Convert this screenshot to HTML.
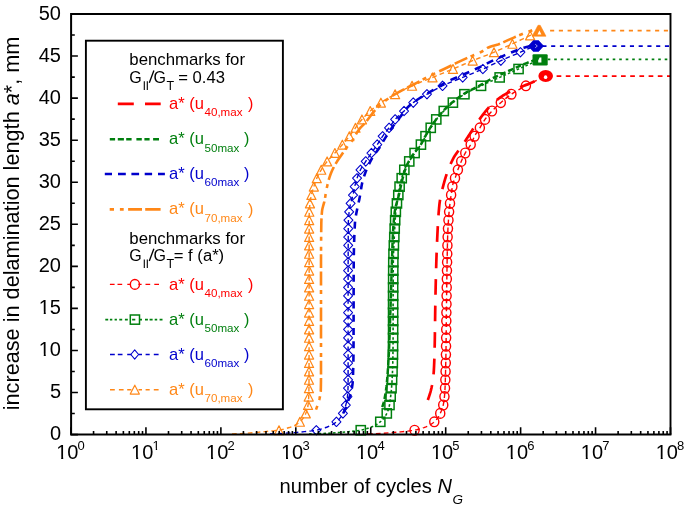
<!DOCTYPE html>
<html><head><meta charset="utf-8"><style>
html,body{margin:0;padding:0;background:#fff;}
svg{display:block;will-change:transform;}
</style></head><body>
<svg width="685" height="507" viewBox="0 0 685 507">
<rect width="685" height="507" fill="#fff"/>
<path d="M427.80,400.06 L428.03,399.42 L428.27,398.77 L428.50,398.12 L428.72,397.47 L428.94,396.82 L429.16,396.17 L429.37,395.52 L429.58,394.88 L429.78,394.23 L429.98,393.58 L430.18,392.93 L430.36,392.28 L430.55,391.63 L430.72,390.98 L430.90,390.33 L431.06,389.69 L431.22,389.04 L431.37,388.39 L431.52,387.74 L431.65,387.09 L431.78,386.44 L431.91,385.79 L432.02,385.15 L432.13,384.50 L432.24,383.85 L432.35,383.20 L432.46,382.55 L432.56,381.90 L432.66,381.25 L432.76,380.61 L432.85,379.96 L432.95,379.31 L433.03,378.66 L433.12,378.01 L433.20,377.36 L433.28,376.71 L433.36,376.07 L433.43,375.42 L433.49,374.77 L433.56,374.12 L433.62,373.47 L433.67,372.82 L433.72,372.17 L433.77,371.53 L433.81,370.88 L433.85,370.23 L433.88,369.58 L433.92,368.93 L433.95,368.28 L433.99,367.63 L434.02,366.99 L434.05,366.34 L434.08,365.69 L434.11,365.04 L434.14,364.39 L434.17,363.74 L434.20,363.09 L434.22,362.45 L434.25,361.80 L434.27,361.15 L434.30,360.50 L434.32,359.85 L434.34,359.20 L434.36,358.55 L434.38,357.90 L434.41,357.26 L434.42,356.61 L434.44,355.96 L434.46,355.31 L434.48,354.66 L434.50,354.01 L434.52,353.36 L434.53,352.72 L434.55,352.07 L434.57,351.42 L434.58,350.77 L434.60,350.12 L434.61,349.47 L434.63,348.82 L434.64,348.18 L434.66,347.53 L434.67,346.88 L434.68,346.23 L434.70,345.58 L434.71,344.93 L434.72,344.28 L434.74,343.64 L434.75,342.99 L434.76,342.34 L434.77,341.69 L434.79,341.04 L434.80,340.39 L434.81,339.74 L434.82,339.10 L434.83,338.45 L434.84,337.80 L434.85,337.15 L434.86,336.50 L434.87,335.85 L434.88,335.20 L434.89,334.56 L434.90,333.91 L434.91,333.26 L434.92,332.61 L434.93,331.96 L434.94,331.31 L434.95,330.66 L434.96,330.02 L434.97,329.37 L434.98,328.72 L434.98,328.07 L434.99,327.42 L435.00,326.77 L435.01,326.12 L435.02,325.47 L435.03,324.83 L435.04,324.18 L435.04,323.53 L435.05,322.88 L435.06,322.23 L435.07,321.58 L435.08,320.93 L435.09,320.29 L435.09,319.64 L435.10,318.99 L435.11,318.34 L435.12,317.69 L435.13,317.04 L435.14,316.39 L435.15,315.75 L435.15,315.10 L435.16,314.45 L435.17,313.80 L435.18,313.15 L435.19,312.50 L435.20,311.85 L435.21,311.21 L435.22,310.56 L435.23,309.91 L435.24,309.26 L435.25,308.61 L435.26,307.96 L435.27,307.31 L435.28,306.67 L435.29,306.02 L435.30,305.37 L435.31,304.72 L435.32,304.07 L435.33,303.42 L435.34,302.77 L435.35,302.13 L435.36,301.48 L435.38,300.83 L435.39,300.18 L435.40,299.53 L435.41,298.88 L435.43,298.23 L435.44,297.59 L435.45,296.94 L435.47,296.29 L435.48,295.64 L435.49,294.99 L435.50,294.34 L435.52,293.69 L435.53,293.04 L435.54,292.40 L435.56,291.75 L435.57,291.10 L435.59,290.45 L435.60,289.80 L435.61,289.15 L435.63,288.50 L435.64,287.86 L435.66,287.21 L435.67,286.56 L435.69,285.91 L435.70,285.26 L435.72,284.61 L435.73,283.96 L435.75,283.32 L435.76,282.67 L435.78,282.02 L435.79,281.37 L435.81,280.72 L435.82,280.07 L435.84,279.42 L435.85,278.78 L435.87,278.13 L435.89,277.48 L435.90,276.83 L435.92,276.18 L435.94,275.53 L435.95,274.88 L435.97,274.24 L435.99,273.59 L436.00,272.94 L436.02,272.29 L436.04,271.64 L436.06,270.99 L436.08,270.34 L436.09,269.70 L436.11,269.05 L436.13,268.40 L436.15,267.75 L436.17,267.10 L436.19,266.45 L436.21,265.80 L436.23,265.15 L436.24,264.51 L436.26,263.86 L436.28,263.21 L436.30,262.56 L436.32,261.91 L436.34,261.26 L436.37,260.61 L436.39,259.97 L436.41,259.32 L436.43,258.67 L436.45,258.02 L436.47,257.37 L436.49,256.72 L436.52,256.07 L436.54,255.43 L436.56,254.78 L436.58,254.13 L436.61,253.48 L436.63,252.83 L436.65,252.18 L436.68,251.53 L436.70,250.89 L436.72,250.24 L436.75,249.59 L436.77,248.94 L436.80,248.29 L436.82,247.64 L436.85,246.99 L436.88,246.35 L436.90,245.70 L436.93,245.05 L436.95,244.40 L436.98,243.75 L437.01,243.10 L437.04,242.45 L437.06,241.81 L437.09,241.16 L437.12,240.51 L437.15,239.86 L437.18,239.21 L437.21,238.56 L437.24,237.91 L437.27,237.27 L437.30,236.62 L437.33,235.97 L437.36,235.32 L437.39,234.67 L437.42,234.02 L437.45,233.37 L437.48,232.72 L437.52,232.08 L437.55,231.43 L437.58,230.78 L437.61,230.13 L437.65,229.48 L437.68,228.83 L437.71,228.18 L437.75,227.54 L437.78,226.89 L437.81,226.24 L437.85,225.59 L437.88,224.94 L437.92,224.29 L437.95,223.64 L437.99,223.00 L438.03,222.35 L438.06,221.70 L438.10,221.05 L438.14,220.40 L438.18,219.75 L438.22,219.10 L438.26,218.46 L438.30,217.81 L438.35,217.16 L438.39,216.51 L438.44,215.86 L438.48,215.21 L438.53,214.56 L438.58,213.92 L438.63,213.27 L438.68,212.62 L438.73,211.97 L438.78,211.32 L438.83,210.67 L438.89,210.02 L438.95,209.38 L439.00,208.73 L439.06,208.08 L439.12,207.43 L439.19,206.78 L439.25,206.13 L439.32,205.48 L439.38,204.84 L439.45,204.19 L439.53,203.54 L439.61,202.89 L439.70,202.24 L439.79,201.59 L439.89,200.94 L439.99,200.29 L440.09,199.65 L440.20,199.00 L440.32,198.35 L440.44,197.70 L440.56,197.05 L440.69,196.40 L440.82,195.75 L440.96,195.11 L441.10,194.46 L441.24,193.81 L441.39,193.16 L441.53,192.51 L441.69,191.86 L441.84,191.21 L442.00,190.57 L442.16,189.92 L442.32,189.27 L442.49,188.62 L442.65,187.97 L442.82,187.32 L442.99,186.67 L443.17,186.03 L443.34,185.38 L443.52,184.73 L443.69,184.08 L443.87,183.43 L444.05,182.78 L444.23,182.13 L444.41,181.49 L444.59,180.84 L444.77,180.19 L444.96,179.54 L445.15,178.89 L445.35,178.24 L445.55,177.59 L445.75,176.95 L445.96,176.30 L446.16,175.65 L446.38,175.00 L446.60,174.35 L446.82,173.70 L447.04,173.05 L447.27,172.40 L447.50,171.76 L447.74,171.11 L447.98,170.46 L448.23,169.81 L448.48,169.16 L448.73,168.51 L448.99,167.86 L449.26,167.22 L449.52,166.57 L449.80,165.92 L450.07,165.27 L450.36,164.62 L450.64,163.97 L450.93,163.32 L451.23,162.68 L451.53,162.03 L451.84,161.38 L452.15,160.73 L452.46,160.08 L452.79,159.43 L453.11,158.78 L453.44,158.14 L453.78,157.49 L454.14,156.84 L454.53,156.19 L454.94,155.54 L455.37,154.89 L455.82,154.24 L456.28,153.60 L456.76,152.95 L457.24,152.30 L457.73,151.65 L458.23,151.00 L458.73,150.35 L459.22,149.70 L459.71,149.06 L460.20,148.41 L460.67,147.76 L461.13,147.11 L461.58,146.46 L462.02,145.81 L462.45,145.16 L462.89,144.52 L463.32,143.87 L463.75,143.22 L464.18,142.57 L464.61,141.92 L465.03,141.27 L465.46,140.62 L465.88,139.97 L466.30,139.33 L466.73,138.68 L467.15,138.03 L467.57,137.38 L467.99,136.73 L468.41,136.08 L468.84,135.43 L469.26,134.79 L469.68,134.14 L470.11,133.49 L470.54,132.84 L470.96,132.19 L471.39,131.54 L471.81,130.89 L472.23,130.25 L472.65,129.60 L473.06,128.95 L473.48,128.30 L473.89,127.65 L474.31,127.00 L474.72,126.35 L475.14,125.71 L475.56,125.06 L475.98,124.41 L476.41,123.76 L476.84,123.11 L477.27,122.46 L477.71,121.81 L478.16,121.17 L478.61,120.52 L479.07,119.87 L479.54,119.22 L480.01,118.57 L480.49,117.92 L480.97,117.27 L481.44,116.63 L481.93,115.98 L482.41,115.33 L482.90,114.68 L483.40,114.03 L483.90,113.38 L484.40,112.73 L484.92,112.09 L485.44,111.44 L485.97,110.79 L486.52,110.14 L487.07,109.49 L487.64,108.84 L488.21,108.19 L488.80,107.54 L489.41,106.90 L490.03,106.25 L490.66,105.60 L491.31,104.95 L491.97,104.30 L492.65,103.65 L493.35,103.00 L494.06,102.36 L494.79,101.71 L495.55,101.06 L496.32,100.41 L497.12,99.76 L497.95,99.11 L498.80,98.46 L499.68,97.82 L500.59,97.17 L501.53,96.52 L502.50,95.87 L503.51,95.22 L504.60,94.57 L505.77,93.92 L507.01,93.28 L508.31,92.63 L509.66,91.98 L511.04,91.33 L512.45,90.68 L513.89,90.03 L515.32,89.38 L516.75,88.74 L518.21,88.09 L519.72,87.44 L521.27,86.79 L522.85,86.14 L524.46,85.49 L526.08,84.84 L527.71,84.20 L529.32,83.55 L530.93,82.90 L532.51,82.25 L534.06,81.60 L535.57,80.95 L537.06,80.30 L538.54,79.66 L539.99,79.01 L541.44,78.36 L542.87,77.71 L544.29,77.06 L545.70,76.41" fill="none" stroke="#ff0000" stroke-width="2.7" stroke-dasharray="15.7 10.8"/>
<path d="M382.30,407.12 L382.51,406.42 L382.72,405.73 L382.93,405.03 L383.13,404.33 L383.32,403.64 L383.51,402.94 L383.70,402.24 L383.87,401.54 L384.05,400.85 L384.21,400.15 L384.37,399.45 L384.52,398.76 L384.66,398.06 L384.80,397.36 L384.93,396.67 L385.06,395.97 L385.19,395.27 L385.31,394.58 L385.43,393.88 L385.54,393.18 L385.65,392.48 L385.76,391.79 L385.86,391.09 L385.96,390.39 L386.06,389.70 L386.15,389.00 L386.24,388.30 L386.32,387.61 L386.41,386.91 L386.48,386.21 L386.56,385.52 L386.64,384.82 L386.71,384.12 L386.78,383.42 L386.85,382.73 L386.92,382.03 L386.99,381.33 L387.05,380.64 L387.11,379.94 L387.17,379.24 L387.23,378.55 L387.29,377.85 L387.35,377.15 L387.40,376.46 L387.46,375.76 L387.51,375.06 L387.56,374.37 L387.61,373.67 L387.66,372.97 L387.71,372.27 L387.76,371.58 L387.81,370.88 L387.86,370.18 L387.91,369.49 L387.95,368.79 L388.00,368.09 L388.05,367.40 L388.09,366.70 L388.14,366.00 L388.18,365.31 L388.22,364.61 L388.26,363.91 L388.31,363.21 L388.35,362.52 L388.39,361.82 L388.43,361.12 L388.47,360.43 L388.51,359.73 L388.55,359.03 L388.58,358.34 L388.62,357.64 L388.66,356.94 L388.70,356.25 L388.73,355.55 L388.77,354.85 L388.80,354.15 L388.84,353.46 L388.87,352.76 L388.90,352.06 L388.94,351.37 L388.97,350.67 L389.00,349.97 L389.03,349.28 L389.06,348.58 L389.09,347.88 L389.13,347.19 L389.16,346.49 L389.18,345.79 L389.21,345.09 L389.24,344.40 L389.27,343.70 L389.30,343.00 L389.33,342.31 L389.36,341.61 L389.38,340.91 L389.41,340.22 L389.44,339.52 L389.46,338.82 L389.49,338.13 L389.52,337.43 L389.54,336.73 L389.57,336.03 L389.59,335.34 L389.62,334.64 L389.64,333.94 L389.67,333.25 L389.69,332.55 L389.72,331.85 L389.74,331.16 L389.77,330.46 L389.79,329.76 L389.81,329.07 L389.84,328.37 L389.86,327.67 L389.88,326.97 L389.91,326.28 L389.93,325.58 L389.95,324.88 L389.98,324.19 L390.00,323.49 L390.02,322.79 L390.04,322.10 L390.07,321.40 L390.09,320.70 L390.11,320.01 L390.13,319.31 L390.16,318.61 L390.18,317.92 L390.20,317.22 L390.22,316.52 L390.25,315.82 L390.27,315.13 L390.29,314.43 L390.31,313.73 L390.34,313.04 L390.36,312.34 L390.38,311.64 L390.40,310.95 L390.43,310.25 L390.45,309.55 L390.47,308.86 L390.49,308.16 L390.52,307.46 L390.54,306.76 L390.56,306.07 L390.59,305.37 L390.61,304.67 L390.63,303.98 L390.65,303.28 L390.68,302.58 L390.70,301.89 L390.72,301.19 L390.74,300.49 L390.76,299.80 L390.78,299.10 L390.81,298.40 L390.83,297.70 L390.85,297.01 L390.87,296.31 L390.89,295.61 L390.91,294.92 L390.93,294.22 L390.95,293.52 L390.98,292.83 L391.00,292.13 L391.02,291.43 L391.04,290.74 L391.06,290.04 L391.08,289.34 L391.10,288.64 L391.12,287.95 L391.14,287.25 L391.16,286.55 L391.18,285.86 L391.20,285.16 L391.23,284.46 L391.25,283.77 L391.27,283.07 L391.29,282.37 L391.31,281.68 L391.33,280.98 L391.35,280.28 L391.37,279.58 L391.39,278.89 L391.41,278.19 L391.44,277.49 L391.46,276.80 L391.48,276.10 L391.50,275.40 L391.52,274.71 L391.54,274.01 L391.56,273.31 L391.59,272.62 L391.61,271.92 L391.63,271.22 L391.65,270.52 L391.67,269.83 L391.70,269.13 L391.72,268.43 L391.74,267.74 L391.77,267.04 L391.79,266.34 L391.81,265.65 L391.83,264.95 L391.86,264.25 L391.88,263.56 L391.90,262.86 L391.92,262.16 L391.94,261.47 L391.97,260.77 L391.99,260.07 L392.01,259.37 L392.03,258.68 L392.05,257.98 L392.07,257.28 L392.09,256.59 L392.11,255.89 L392.14,255.19 L392.16,254.50 L392.18,253.80 L392.20,253.10 L392.22,252.41 L392.24,251.71 L392.26,251.01 L392.29,250.31 L392.31,249.62 L392.33,248.92 L392.35,248.22 L392.38,247.53 L392.40,246.83 L392.42,246.13 L392.45,245.44 L392.47,244.74 L392.50,244.04 L392.52,243.35 L392.55,242.65 L392.57,241.95 L392.60,241.25 L392.63,240.56 L392.66,239.86 L392.69,239.16 L392.71,238.47 L392.74,237.77 L392.78,237.07 L392.81,236.38 L392.84,235.68 L392.87,234.98 L392.90,234.29 L392.94,233.59 L392.97,232.89 L393.01,232.19 L393.05,231.50 L393.09,230.80 L393.13,230.10 L393.17,229.41 L393.21,228.71 L393.25,228.01 L393.30,227.32 L393.34,226.62 L393.39,225.92 L393.44,225.23 L393.49,224.53 L393.54,223.83 L393.60,223.13 L393.65,222.44 L393.71,221.74 L393.77,221.04 L393.83,220.35 L393.89,219.65 L393.96,218.95 L394.02,218.26 L394.09,217.56 L394.16,216.86 L394.24,216.17 L394.31,215.47 L394.39,214.77 L394.47,214.07 L394.55,213.38 L394.64,212.68 L394.72,211.98 L394.81,211.29 L394.91,210.59 L395.03,209.89 L395.15,209.20 L395.29,208.50 L395.44,207.80 L395.60,207.11 L395.76,206.41 L395.94,205.71 L396.12,205.01 L396.31,204.32 L396.50,203.62 L396.70,202.92 L396.89,202.23 L397.10,201.53 L397.30,200.83 L397.50,200.14 L397.70,199.44 L397.90,198.74 L398.10,198.05 L398.29,197.35 L398.48,196.65 L398.66,195.96 L398.84,195.26 L399.01,194.56 L399.17,193.86 L399.33,193.17 L399.49,192.47 L399.64,191.77 L399.80,191.08 L399.95,190.38 L400.10,189.68 L400.24,188.99 L400.39,188.29 L400.54,187.59 L400.69,186.90 L400.83,186.20 L400.98,185.50 L401.13,184.80 L401.28,184.11 L401.44,183.41 L401.59,182.71 L401.75,182.02 L401.92,181.32 L402.08,180.62 L402.25,179.93 L402.43,179.23 L402.61,178.53 L402.79,177.84 L402.98,177.14 L403.17,176.44 L403.36,175.74 L403.56,175.05 L403.76,174.35 L403.96,173.65 L404.17,172.96 L404.38,172.26 L404.60,171.56 L404.82,170.87 L405.05,170.17 L405.29,169.47 L405.53,168.78 L405.78,168.08 L406.04,167.38 L406.30,166.68 L406.58,165.99 L406.86,165.29 L407.16,164.59 L407.48,163.90 L407.82,163.20 L408.17,162.50 L408.55,161.81 L408.93,161.11 L409.33,160.41 L409.74,159.72 L410.16,159.02 L410.58,158.32 L411.01,157.62 L411.45,156.93 L411.91,156.23 L412.39,155.53 L412.88,154.84 L413.39,154.14 L413.90,153.44 L414.42,152.75 L414.95,152.05 L415.47,151.35 L416.00,150.66 L416.56,149.96 L417.14,149.26 L417.73,148.56 L418.32,147.87 L418.90,147.17 L419.46,146.47 L419.99,145.78 L420.47,145.08 L420.92,144.38 L421.34,143.69 L421.74,142.99 L422.13,142.29 L422.50,141.60 L422.86,140.90 L423.21,140.20 L423.56,139.51 L423.91,138.81 L424.26,138.11 L424.62,137.41 L424.99,136.72 L425.38,136.02 L425.77,135.32 L426.17,134.63 L426.56,133.93 L426.96,133.23 L427.37,132.54 L427.77,131.84 L428.18,131.14 L428.60,130.45 L429.02,129.75 L429.45,129.05 L429.89,128.35 L430.33,127.66 L430.79,126.96 L431.25,126.26 L431.72,125.57 L432.20,124.87 L432.68,124.17 L433.18,123.48 L433.68,122.78 L434.18,122.08 L434.70,121.39 L435.22,120.69 L435.74,119.99 L436.27,119.29 L436.81,118.60 L437.35,117.90 L437.89,117.20 L438.44,116.51 L439.00,115.81 L439.57,115.11 L440.14,114.42 L440.73,113.72 L441.32,113.02 L441.93,112.33 L442.55,111.63 L443.19,110.93 L443.84,110.23 L444.51,109.54 L445.20,108.84 L445.90,108.14 L446.62,107.45 L447.35,106.75 L448.10,106.05 L448.86,105.36 L449.64,104.66 L450.43,103.96 L451.24,103.27 L452.06,102.57 L452.90,101.87 L453.75,101.17 L454.61,100.48 L455.50,99.78 L456.40,99.08 L457.32,98.39 L458.26,97.69 L459.23,96.99 L460.22,96.30 L461.24,95.60 L462.28,94.90 L463.36,94.21 L464.47,93.51 L465.65,92.81 L466.90,92.11 L468.19,91.42 L469.54,90.72 L470.91,90.02 L472.30,89.33 L473.71,88.63 L475.11,87.93 L476.49,87.24 L477.86,86.54 L479.18,85.84 L480.46,85.15 L481.70,84.45 L482.90,83.75 L484.09,83.06 L485.27,82.36 L486.45,81.66 L487.64,80.96 L488.86,80.27 L490.12,79.57 L491.43,78.87 L492.79,78.18 L494.20,77.48 L495.65,76.78 L497.13,76.09 L498.65,75.39 L500.18,74.69 L501.74,74.00 L503.30,73.30 L504.87,72.60 L506.44,71.90 L508.00,71.21 L509.55,70.51 L511.09,69.81 L512.62,69.12 L514.16,68.42 L515.70,67.72 L517.25,67.03 L518.82,66.33 L520.42,65.63 L522.05,64.94 L523.72,64.24 L525.42,63.54 L527.18,62.84 L529.01,62.15 L530.92,61.45 L532.90,60.75 L534.93,60.06 L537.00,59.36" fill="none" stroke="#007f0e" stroke-width="2.5" stroke-dasharray="5.6 2.8"/>
<path d="M341.50,416.36 L341.94,415.62 L342.37,414.87 L342.79,414.13 L343.20,413.39 L343.59,412.64 L343.97,411.90 L344.34,411.16 L344.70,410.41 L345.05,409.67 L345.39,408.93 L345.71,408.18 L346.02,407.44 L346.32,406.70 L346.61,405.96 L346.88,405.21 L347.14,404.47 L347.37,403.73 L347.59,402.98 L347.80,402.24 L348.01,401.50 L348.23,400.75 L348.46,400.01 L348.70,399.27 L348.97,398.52 L349.26,397.78 L349.56,397.04 L349.86,396.29 L350.15,395.55 L350.43,394.81 L350.68,394.06 L350.89,393.32 L351.06,392.58 L351.21,391.83 L351.36,391.09 L351.51,390.35 L351.65,389.60 L351.78,388.86 L351.91,388.12 L352.04,387.37 L352.15,386.63 L352.26,385.89 L352.36,385.15 L352.45,384.40 L352.54,383.66 L352.61,382.92 L352.68,382.17 L352.73,381.43 L352.78,380.69 L352.81,379.94 L352.85,379.20 L352.88,378.46 L352.91,377.71 L352.94,376.97 L352.96,376.23 L352.99,375.48 L353.02,374.74 L353.05,374.00 L353.07,373.25 L353.10,372.51 L353.12,371.77 L353.14,371.02 L353.16,370.28 L353.19,369.54 L353.21,368.79 L353.23,368.05 L353.25,367.31 L353.26,366.57 L353.28,365.82 L353.30,365.08 L353.32,364.34 L353.33,363.59 L353.35,362.85 L353.36,362.11 L353.37,361.36 L353.39,360.62 L353.40,359.88 L353.41,359.13 L353.42,358.39 L353.43,357.65 L353.44,356.90 L353.45,356.16 L353.46,355.42 L353.47,354.67 L353.47,353.93 L353.48,353.19 L353.48,352.44 L353.49,351.70 L353.49,350.96 L353.50,350.21 L353.50,349.47 L353.51,348.73 L353.51,347.99 L353.51,347.24 L353.52,346.50 L353.52,345.76 L353.52,345.01 L353.53,344.27 L353.53,343.53 L353.53,342.78 L353.53,342.04 L353.54,341.30 L353.54,340.55 L353.54,339.81 L353.54,339.07 L353.55,338.32 L353.55,337.58 L353.55,336.84 L353.55,336.09 L353.56,335.35 L353.56,334.61 L353.56,333.86 L353.56,333.12 L353.56,332.38 L353.56,331.63 L353.57,330.89 L353.57,330.15 L353.57,329.40 L353.57,328.66 L353.57,327.92 L353.57,327.18 L353.58,326.43 L353.58,325.69 L353.58,324.95 L353.58,324.20 L353.58,323.46 L353.58,322.72 L353.58,321.97 L353.58,321.23 L353.59,320.49 L353.59,319.74 L353.59,319.00 L353.59,318.26 L353.59,317.51 L353.59,316.77 L353.59,316.03 L353.59,315.28 L353.59,314.54 L353.59,313.80 L353.60,313.05 L353.60,312.31 L353.60,311.57 L353.60,310.82 L353.60,310.08 L353.60,309.34 L353.60,308.60 L353.60,307.85 L353.60,307.11 L353.60,306.37 L353.60,305.62 L353.60,304.88 L353.61,304.14 L353.61,303.39 L353.61,302.65 L353.61,301.91 L353.61,301.16 L353.61,300.42 L353.61,299.68 L353.61,298.93 L353.61,298.19 L353.61,297.45 L353.61,296.70 L353.62,295.96 L353.62,295.22 L353.62,294.47 L353.62,293.73 L353.62,292.99 L353.62,292.24 L353.62,291.50 L353.62,290.76 L353.63,290.01 L353.63,289.27 L353.63,288.53 L353.63,287.79 L353.63,287.04 L353.63,286.30 L353.63,285.56 L353.64,284.81 L353.64,284.07 L353.64,283.33 L353.64,282.58 L353.64,281.84 L353.64,281.10 L353.65,280.35 L353.65,279.61 L353.65,278.87 L353.65,278.12 L353.66,277.38 L353.66,276.64 L353.66,275.89 L353.66,275.15 L353.67,274.41 L353.67,273.66 L353.67,272.92 L353.67,272.18 L353.68,271.43 L353.68,270.69 L353.68,269.95 L353.69,269.21 L353.69,268.46 L353.69,267.72 L353.70,266.98 L353.70,266.23 L353.70,265.49 L353.71,264.75 L353.71,264.00 L353.72,263.26 L353.72,262.52 L353.73,261.77 L353.74,261.03 L353.74,260.29 L353.75,259.54 L353.76,258.80 L353.77,258.06 L353.78,257.31 L353.79,256.57 L353.80,255.83 L353.82,255.08 L353.83,254.34 L353.84,253.60 L353.85,252.85 L353.87,252.11 L353.88,251.37 L353.90,250.62 L353.92,249.88 L353.93,249.14 L353.95,248.40 L353.97,247.65 L353.99,246.91 L354.01,246.17 L354.03,245.42 L354.05,244.68 L354.07,243.94 L354.09,243.19 L354.11,242.45 L354.14,241.71 L354.16,240.96 L354.19,240.22 L354.21,239.48 L354.24,238.73 L354.27,237.99 L354.29,237.25 L354.32,236.50 L354.35,235.76 L354.38,235.02 L354.41,234.27 L354.44,233.53 L354.47,232.79 L354.51,232.04 L354.54,231.30 L354.57,230.56 L354.61,229.82 L354.64,229.07 L354.68,228.33 L354.72,227.59 L354.75,226.84 L354.79,226.10 L354.83,225.36 L354.87,224.61 L354.91,223.87 L354.95,223.13 L355.00,222.38 L355.05,221.64 L355.11,220.90 L355.19,220.15 L355.27,219.41 L355.37,218.67 L355.48,217.92 L355.60,217.18 L355.73,216.44 L355.86,215.69 L356.00,214.95 L356.14,214.21 L356.29,213.46 L356.44,212.72 L356.59,211.98 L356.74,211.24 L356.89,210.49 L357.03,209.75 L357.18,209.01 L357.32,208.26 L357.47,207.52 L357.63,206.78 L357.79,206.03 L357.96,205.29 L358.13,204.55 L358.30,203.80 L358.48,203.06 L358.65,202.32 L358.82,201.57 L358.99,200.83 L359.16,200.09 L359.32,199.34 L359.47,198.60 L359.62,197.86 L359.76,197.11 L359.89,196.37 L360.02,195.63 L360.14,194.88 L360.26,194.14 L360.38,193.40 L360.50,192.65 L360.61,191.91 L360.72,191.17 L360.83,190.43 L360.95,189.68 L361.06,188.94 L361.18,188.20 L361.31,187.45 L361.43,186.71 L361.57,185.97 L361.70,185.22 L361.85,184.48 L362.00,183.74 L362.17,182.99 L362.34,182.25 L362.52,181.51 L362.71,180.76 L362.92,180.02 L363.13,179.28 L363.35,178.53 L363.58,177.79 L363.82,177.05 L364.07,176.30 L364.32,175.56 L364.58,174.82 L364.85,174.07 L365.12,173.33 L365.39,172.59 L365.68,171.85 L365.96,171.10 L366.25,170.36 L366.55,169.62 L366.85,168.87 L367.17,168.13 L367.49,167.39 L367.82,166.64 L368.16,165.90 L368.51,165.16 L368.87,164.41 L369.23,163.67 L369.61,162.93 L369.99,162.18 L370.38,161.44 L370.78,160.70 L371.18,159.95 L371.60,159.21 L372.02,158.47 L372.45,157.72 L372.89,156.98 L373.33,156.24 L373.79,155.49 L374.29,154.75 L374.82,154.01 L375.37,153.26 L375.94,152.52 L376.52,151.78 L377.09,151.04 L377.66,150.29 L378.21,149.55 L378.73,148.81 L379.22,148.06 L379.69,147.32 L380.14,146.58 L380.59,145.83 L381.02,145.09 L381.45,144.35 L381.88,143.60 L382.30,142.86 L382.74,142.12 L383.18,141.37 L383.63,140.63 L384.08,139.89 L384.54,139.14 L384.99,138.40 L385.45,137.66 L385.91,136.91 L386.37,136.17 L386.83,135.43 L387.30,134.68 L387.78,133.94 L388.25,133.20 L388.74,132.46 L389.23,131.71 L389.72,130.97 L390.22,130.23 L390.73,129.48 L391.24,128.74 L391.76,128.00 L392.29,127.25 L392.82,126.51 L393.35,125.77 L393.90,125.02 L394.44,124.28 L395.00,123.54 L395.56,122.79 L396.12,122.05 L396.70,121.31 L397.27,120.56 L397.85,119.82 L398.44,119.08 L399.03,118.33 L399.62,117.59 L400.21,116.85 L400.80,116.10 L401.37,115.36 L401.94,114.62 L402.50,113.87 L403.06,113.13 L403.62,112.39 L404.18,111.65 L404.75,110.90 L405.34,110.16 L405.94,109.42 L406.56,108.67 L407.21,107.93 L407.89,107.19 L408.60,106.44 L409.35,105.70 L410.16,104.96 L411.03,104.21 L411.96,103.47 L412.95,102.73 L413.98,101.98 L415.05,101.24 L416.14,100.50 L417.25,99.75 L418.37,99.01 L419.50,98.27 L420.62,97.52 L421.78,96.78 L422.97,96.04 L424.19,95.29 L425.42,94.55 L426.68,93.81 L427.95,93.07 L429.22,92.32 L430.50,91.58 L431.78,90.84 L433.05,90.09 L434.31,89.35 L435.56,88.61 L436.77,87.86 L437.96,87.12 L439.14,86.38 L440.32,85.63 L441.52,84.89 L442.75,84.15 L444.02,83.40 L445.34,82.66 L446.74,81.92 L448.21,81.17 L449.78,80.43 L451.40,79.69 L453.09,78.94 L454.81,78.20 L456.56,77.46 L458.33,76.71 L460.09,75.97 L461.85,75.23 L463.58,74.49 L465.27,73.74 L466.94,73.00 L468.61,72.26 L470.28,71.51 L471.95,70.77 L473.61,70.03 L475.24,69.28 L476.85,68.54 L478.42,67.80 L479.95,67.05 L481.44,66.31 L482.89,65.57 L484.33,64.82 L485.76,64.08 L487.19,63.34 L488.65,62.59 L490.13,61.85 L491.66,61.11 L493.23,60.36 L494.84,59.62 L496.48,58.88 L498.14,58.13 L499.82,57.39 L501.51,56.65 L503.22,55.90 L504.93,55.16 L506.64,54.42 L508.37,53.68 L510.13,52.93 L511.92,52.19 L513.76,51.45 L515.66,50.70 L517.55,49.96 L519.49,49.22 L521.56,48.47 L523.87,47.73 L526.54,46.99 L529.63,46.24 L533.00,45.50" fill="none" stroke="#0000cc" stroke-width="2.6" stroke-dasharray="7.1 6.2" stroke-dashoffset="-3.6"/>
<path d="M316.00,409.64 L316.27,408.88 L316.54,408.12 L316.81,407.36 L317.07,406.60 L317.33,405.84 L317.58,405.07 L317.82,404.31 L318.07,403.55 L318.31,402.79 L318.56,402.03 L318.81,401.27 L319.04,400.51 L319.25,399.75 L319.44,398.99 L319.60,398.23 L319.76,397.47 L319.92,396.71 L320.08,395.94 L320.22,395.18 L320.36,394.42 L320.48,393.66 L320.59,392.90 L320.68,392.14 L320.75,391.38 L320.79,390.62 L320.81,389.86 L320.83,389.10 L320.85,388.34 L320.87,387.57 L320.88,386.81 L320.90,386.05 L320.91,385.29 L320.92,384.53 L320.94,383.77 L320.95,383.01 L320.96,382.25 L320.97,381.49 L320.97,380.73 L320.98,379.97 L320.99,379.20 L320.99,378.44 L320.99,377.68 L321.00,376.92 L321.00,376.16 L321.00,375.40 L321.00,374.64 L321.00,373.88 L321.00,373.12 L321.00,372.36 L321.00,371.60 L321.00,370.84 L321.00,370.07 L321.00,369.31 L321.00,368.55 L321.00,367.79 L321.00,367.03 L321.00,366.27 L321.00,365.51 L321.00,364.75 L321.00,363.99 L321.00,363.23 L321.00,362.47 L321.00,361.70 L321.00,360.94 L321.00,360.18 L321.00,359.42 L321.00,358.66 L321.00,357.90 L321.00,357.14 L321.00,356.38 L321.00,355.62 L321.00,354.86 L321.00,354.10 L321.00,353.33 L321.00,352.57 L321.00,351.81 L321.00,351.05 L321.00,350.29 L321.00,349.53 L321.00,348.77 L321.00,348.01 L321.00,347.25 L321.00,346.49 L321.00,345.73 L321.00,344.97 L321.00,344.20 L321.00,343.44 L321.00,342.68 L321.00,341.92 L321.00,341.16 L321.00,340.40 L321.00,339.64 L321.00,338.88 L321.00,338.12 L321.00,337.36 L321.00,336.60 L321.00,335.83 L321.00,335.07 L321.00,334.31 L321.00,333.55 L321.00,332.79 L321.00,332.03 L321.00,331.27 L321.00,330.51 L321.00,329.75 L321.00,328.99 L321.00,328.23 L321.00,327.46 L321.00,326.70 L321.00,325.94 L321.00,325.18 L321.00,324.42 L321.00,323.66 L321.00,322.90 L321.00,322.14 L321.00,321.38 L321.00,320.62 L321.00,319.86 L321.00,319.10 L321.00,318.33 L321.00,317.57 L321.00,316.81 L321.00,316.05 L321.00,315.29 L321.00,314.53 L321.00,313.77 L321.00,313.01 L321.00,312.25 L321.00,311.49 L321.00,310.73 L321.00,309.96 L321.00,309.20 L321.00,308.44 L321.00,307.68 L321.00,306.92 L321.00,306.16 L321.00,305.40 L321.00,304.64 L321.00,303.88 L321.00,303.12 L321.00,302.36 L321.00,301.59 L321.00,300.83 L321.00,300.07 L321.00,299.31 L321.00,298.55 L321.00,297.79 L321.00,297.03 L321.00,296.27 L321.00,295.51 L321.00,294.75 L321.00,293.99 L321.00,293.23 L321.00,292.46 L321.00,291.70 L321.00,290.94 L321.00,290.18 L321.00,289.42 L321.00,288.66 L321.00,287.90 L321.00,287.14 L321.00,286.38 L321.00,285.62 L321.00,284.86 L321.00,284.09 L321.00,283.33 L321.00,282.57 L321.00,281.81 L321.00,281.05 L321.00,280.29 L321.00,279.53 L321.00,278.77 L321.00,278.01 L321.00,277.25 L321.00,276.49 L321.00,275.72 L321.00,274.96 L321.00,274.20 L321.00,273.44 L321.00,272.68 L321.00,271.92 L321.00,271.16 L321.00,270.40 L321.00,269.64 L321.00,268.88 L321.00,268.12 L321.00,267.36 L321.00,266.59 L321.00,265.83 L321.00,265.07 L321.00,264.31 L321.00,263.55 L321.00,262.79 L321.00,262.03 L321.00,261.27 L321.00,260.51 L321.01,259.75 L321.01,258.99 L321.01,258.22 L321.01,257.46 L321.01,256.70 L321.02,255.94 L321.02,255.18 L321.02,254.42 L321.02,253.66 L321.03,252.90 L321.03,252.14 L321.04,251.38 L321.04,250.62 L321.04,249.85 L321.05,249.09 L321.05,248.33 L321.06,247.57 L321.06,246.81 L321.07,246.05 L321.07,245.29 L321.08,244.53 L321.08,243.77 L321.09,243.01 L321.09,242.25 L321.10,241.49 L321.11,240.72 L321.11,239.96 L321.12,239.20 L321.13,238.44 L321.13,237.68 L321.14,236.92 L321.15,236.16 L321.16,235.40 L321.16,234.64 L321.17,233.88 L321.18,233.12 L321.19,232.35 L321.20,231.59 L321.21,230.83 L321.22,230.07 L321.23,229.31 L321.24,228.55 L321.25,227.79 L321.26,227.03 L321.27,226.27 L321.28,225.51 L321.29,224.75 L321.30,223.98 L321.31,223.22 L321.33,222.46 L321.35,221.70 L321.38,220.94 L321.41,220.18 L321.44,219.42 L321.48,218.66 L321.52,217.90 L321.56,217.14 L321.61,216.38 L321.66,215.62 L321.71,214.85 L321.77,214.09 L321.83,213.33 L321.90,212.57 L321.96,211.81 L322.04,211.05 L322.14,210.29 L322.27,209.53 L322.42,208.77 L322.60,208.01 L322.80,207.25 L323.00,206.48 L323.22,205.72 L323.44,204.96 L323.66,204.20 L323.87,203.44 L324.08,202.68 L324.28,201.92 L324.46,201.16 L324.62,200.40 L324.76,199.64 L324.90,198.88 L325.03,198.11 L325.15,197.35 L325.27,196.59 L325.39,195.83 L325.51,195.07 L325.63,194.31 L325.75,193.55 L325.87,192.79 L326.00,192.03 L326.14,191.27 L326.28,190.51 L326.43,189.75 L326.58,188.98 L326.73,188.22 L326.89,187.46 L327.05,186.70 L327.22,185.94 L327.39,185.18 L327.56,184.42 L327.74,183.66 L327.93,182.90 L328.12,182.14 L328.31,181.38 L328.52,180.61 L328.73,179.85 L328.95,179.09 L329.18,178.33 L329.42,177.57 L329.67,176.81 L329.93,176.05 L330.20,175.29 L330.48,174.53 L330.77,173.77 L331.06,173.01 L331.37,172.24 L331.68,171.48 L332.02,170.72 L332.36,169.96 L332.73,169.20 L333.11,168.44 L333.50,167.68 L333.90,166.92 L334.31,166.16 L334.73,165.40 L335.16,164.64 L335.60,163.88 L336.04,163.11 L336.50,162.35 L336.98,161.59 L337.48,160.83 L337.98,160.07 L338.50,159.31 L339.02,158.55 L339.55,157.79 L340.07,157.03 L340.59,156.27 L341.11,155.51 L341.62,154.74 L342.13,153.98 L342.64,153.22 L343.16,152.46 L343.67,151.70 L344.19,150.94 L344.72,150.18 L345.25,149.42 L345.79,148.66 L346.33,147.90 L346.89,147.14 L347.46,146.37 L348.06,145.61 L348.68,144.85 L349.32,144.09 L349.96,143.33 L350.60,142.57 L351.22,141.81 L351.82,141.05 L352.39,140.29 L352.93,139.53 L353.43,138.77 L353.90,138.01 L354.36,137.24 L354.79,136.48 L355.22,135.72 L355.64,134.96 L356.07,134.20 L356.50,133.44 L356.93,132.68 L357.39,131.92 L357.86,131.16 L358.36,130.40 L358.89,129.64 L359.46,128.87 L360.09,128.11 L360.78,127.35 L361.51,126.59 L362.27,125.83 L363.03,125.07 L363.79,124.31 L364.51,123.55 L365.19,122.79 L365.83,122.03 L366.45,121.27 L367.05,120.50 L367.63,119.74 L368.20,118.98 L368.77,118.22 L369.33,117.46 L369.89,116.70 L370.45,115.94 L371.01,115.18 L371.59,114.42 L372.18,113.66 L372.78,112.90 L373.41,112.14 L374.06,111.37 L374.73,110.61 L375.41,109.85 L376.12,109.09 L376.85,108.33 L377.60,107.57 L378.37,106.81 L379.17,106.05 L379.99,105.29 L380.83,104.53 L381.69,103.77 L382.57,103.00 L383.47,102.24 L384.40,101.48 L385.35,100.72 L386.33,99.96 L387.34,99.20 L388.38,98.44 L389.46,97.68 L390.59,96.92 L391.77,96.16 L392.99,95.40 L394.26,94.63 L395.56,93.87 L396.89,93.11 L398.25,92.35 L399.63,91.59 L401.02,90.83 L402.43,90.07 L403.85,89.31 L405.33,88.55 L406.86,87.79 L408.43,87.03 L410.02,86.27 L411.61,85.50 L413.17,84.74 L414.69,83.98 L416.15,83.22 L417.58,82.46 L418.97,81.70 L420.35,80.94 L421.71,80.18 L423.09,79.42 L424.47,78.66 L425.89,77.90 L427.34,77.13 L428.83,76.37 L430.36,75.61 L431.91,74.85 L433.48,74.09 L435.07,73.33 L436.67,72.57 L438.28,71.81 L439.89,71.05 L441.49,70.29 L443.08,69.53 L444.66,68.76 L446.22,68.00 L447.77,67.24 L449.31,66.48 L450.85,65.72 L452.39,64.96 L453.94,64.20 L455.51,63.44 L457.09,62.68 L458.68,61.92 L460.29,61.16 L461.90,60.40 L463.53,59.63 L465.18,58.87 L466.84,58.11 L468.54,57.35 L470.31,56.59 L472.14,55.83 L474.00,55.07 L475.84,54.31 L477.63,53.55 L479.35,52.79 L480.95,52.03 L482.39,51.26 L483.63,50.50 L484.77,49.74 L485.90,48.98 L487.11,48.22 L488.49,47.46 L490.15,46.70 L492.50,45.94 L495.33,45.18 L497.98,44.42 L500.06,43.66 L501.92,42.89 L503.64,42.13 L505.27,41.37 L506.88,40.61 L508.53,39.85 L510.25,39.09 L512.03,38.33 L513.80,37.57 L515.59,36.81 L517.40,36.05 L519.23,35.29 L521.09,34.53 L522.99,33.76 L524.93,33.00 L526.90,32.24 L528.90,31.48 L530.94,30.72 L533.00,29.96" fill="none" stroke="#ff8717" stroke-width="2.6" stroke-dasharray="4 6 4 4.5 13.8 3.5 13.8 3.6"/>
<path d="M368.00,434.00 L382.95,433.28 L393.17,432.57 L400.66,431.85 L407.39,431.13 L413.62,430.42 L416.72,429.70 L419.44,428.98 L421.86,428.27 L424.01,427.55 L425.92,426.83 L427.61,426.12 L429.09,425.40 L430.40,424.68 L431.55,423.97 L432.57,423.25 L433.47,422.53 L434.29,421.82 L435.03,421.10 L435.72,420.38 L436.35,419.67 L436.94,418.95 L437.47,418.23 L437.97,417.52 L438.43,416.80 L438.86,416.08 L439.26,415.37 L439.63,414.65 L439.99,413.93 L440.34,413.22 L440.67,412.50 L440.99,411.79 L441.30,411.07 L441.59,410.35 L441.87,409.64 L442.13,408.92 L442.38,408.20 L442.61,407.49 L442.81,406.77 L443.00,406.05 L443.17,405.34 L443.32,404.62 L443.46,403.90 L443.59,403.19 L443.71,402.47 L443.83,401.75 L443.94,401.04 L444.04,400.32 L444.13,399.60 L444.22,398.89 L444.30,398.17 L444.38,397.45 L444.45,396.74 L444.51,396.02 L444.57,395.30 L444.63,394.59 L444.69,393.87 L444.74,393.15 L444.79,392.44 L444.84,391.72 L444.88,391.00 L444.93,390.29 L444.97,389.57 L445.00,388.85 L445.04,388.14 L445.07,387.42 L445.10,386.70 L445.13,385.99 L445.16,385.27 L445.19,384.55 L445.21,383.84 L445.24,383.12 L445.26,382.40 L445.28,381.69 L445.30,380.97 L445.32,380.25 L445.35,379.54 L445.37,378.82 L445.39,378.10 L445.41,377.39 L445.43,376.67 L445.45,375.95 L445.47,375.24 L445.49,374.52 L445.51,373.80 L445.52,373.09 L445.54,372.37 L445.56,371.65 L445.58,370.94 L445.60,370.22 L445.62,369.51 L445.63,368.79 L445.65,368.07 L445.67,367.36 L445.68,366.64 L445.70,365.92 L445.72,365.21 L445.73,364.49 L445.75,363.77 L445.76,363.06 L445.78,362.34 L445.79,361.62 L445.81,360.91 L445.82,360.19 L445.84,359.47 L445.85,358.76 L445.87,358.04 L445.88,357.32 L445.89,356.61 L445.90,355.89 L445.92,355.17 L445.93,354.46 L445.94,353.74 L445.95,353.02 L445.96,352.31 L445.98,351.59 L445.99,350.87 L446.00,350.16 L446.01,349.44 L446.02,348.72 L446.03,348.01 L446.04,347.29 L446.05,346.57 L446.06,345.86 L446.07,345.14 L446.07,344.42 L446.08,343.71 L446.09,342.99 L446.10,342.27 L446.11,341.56 L446.12,340.84 L446.12,340.12 L446.13,339.41 L446.14,338.69 L446.15,337.97 L446.15,337.26 L446.16,336.54 L446.17,335.82 L446.17,335.11 L446.18,334.39 L446.19,333.67 L446.19,332.96 L446.20,332.24 L446.21,331.52 L446.21,330.81 L446.22,330.09 L446.23,329.38 L446.23,328.66 L446.24,327.94 L446.25,327.23 L446.25,326.51 L446.26,325.79 L446.27,325.08 L446.27,324.36 L446.28,323.64 L446.29,322.93 L446.29,322.21 L446.30,321.49 L446.31,320.78 L446.31,320.06 L446.32,319.34 L446.33,318.63 L446.34,317.91 L446.34,317.19 L446.35,316.48 L446.36,315.76 L446.37,315.04 L446.38,314.33 L446.38,313.61 L446.39,312.89 L446.40,312.18 L446.41,311.46 L446.42,310.74 L446.43,310.03 L446.43,309.31 L446.44,308.59 L446.45,307.88 L446.46,307.16 L446.47,306.44 L446.48,305.73 L446.49,305.01 L446.50,304.29 L446.51,303.58 L446.51,302.86 L446.52,302.14 L446.53,301.43 L446.54,300.71 L446.55,299.99 L446.56,299.28 L446.57,298.56 L446.58,297.84 L446.59,297.13 L446.60,296.41 L446.61,295.69 L446.61,294.98 L446.62,294.26 L446.63,293.54 L446.64,292.83 L446.65,292.11 L446.66,291.39 L446.67,290.68 L446.68,289.96 L446.69,289.24 L446.70,288.53 L446.71,287.81 L446.72,287.10 L446.73,286.38 L446.74,285.66 L446.75,284.95 L446.76,284.23 L446.77,283.51 L446.78,282.80 L446.79,282.08 L446.80,281.36 L446.81,280.65 L446.82,279.93 L446.83,279.21 L446.84,278.50 L446.86,277.78 L446.87,277.06 L446.88,276.35 L446.89,275.63 L446.90,274.91 L446.91,274.20 L446.92,273.48 L446.93,272.76 L446.94,272.05 L446.96,271.33 L446.97,270.61 L446.98,269.90 L446.99,269.18 L447.00,268.46 L447.01,267.75 L447.03,267.03 L447.04,266.31 L447.05,265.60 L447.06,264.88 L447.07,264.16 L447.09,263.45 L447.10,262.73 L447.11,262.01 L447.12,261.30 L447.14,260.58 L447.15,259.86 L447.16,259.15 L447.17,258.43 L447.18,257.71 L447.20,257.00 L447.21,256.28 L447.22,255.56 L447.23,254.85 L447.25,254.13 L447.26,253.41 L447.27,252.70 L447.29,251.98 L447.30,251.26 L447.31,250.55 L447.33,249.83 L447.34,249.11 L447.36,248.40 L447.37,247.68 L447.39,246.96 L447.40,246.25 L447.42,245.53 L447.43,244.82 L447.45,244.10 L447.47,243.38 L447.48,242.67 L447.50,241.95 L447.52,241.23 L447.54,240.52 L447.56,239.80 L447.58,239.08 L447.60,238.37 L447.62,237.65 L447.64,236.93 L447.66,236.22 L447.68,235.50 L447.70,234.78 L447.73,234.07 L447.75,233.35 L447.78,232.63 L447.81,231.92 L447.84,231.20 L447.87,230.48 L447.91,229.77 L447.94,229.05 L447.98,228.33 L448.01,227.62 L448.05,226.90 L448.09,226.18 L448.13,225.47 L448.17,224.75 L448.22,224.03 L448.26,223.32 L448.31,222.60 L448.35,221.88 L448.40,221.17 L448.45,220.45 L448.50,219.73 L448.55,219.02 L448.60,218.30 L448.65,217.58 L448.71,216.87 L448.76,216.15 L448.82,215.43 L448.87,214.72 L448.93,214.00 L448.98,213.28 L449.04,212.57 L449.10,211.85 L449.17,211.13 L449.23,210.42 L449.30,209.70 L449.37,208.98 L449.44,208.27 L449.52,207.55 L449.60,206.83 L449.68,206.12 L449.76,205.40 L449.84,204.69 L449.93,203.97 L450.02,203.25 L450.11,202.54 L450.20,201.82 L450.29,201.10 L450.38,200.39 L450.48,199.67 L450.57,198.95 L450.67,198.24 L450.77,197.52 L450.87,196.80 L450.97,196.09 L451.07,195.37 L451.17,194.65 L451.27,193.94 L451.38,193.22 L451.48,192.50 L451.58,191.79 L451.68,191.07 L451.79,190.35 L451.90,189.64 L452.01,188.92 L452.12,188.20 L452.24,187.49 L452.37,186.77 L452.50,186.05 L452.64,185.34 L452.79,184.62 L452.95,183.90 L453.11,183.19 L453.30,182.47 L453.53,181.75 L453.79,181.04 L454.09,180.32 L454.39,179.60 L454.71,178.89 L455.02,178.17 L455.31,177.45 L455.58,176.74 L455.84,176.02 L456.08,175.30 L456.32,174.59 L456.56,173.87 L456.79,173.15 L457.03,172.44 L457.26,171.72 L457.50,171.00 L457.74,170.29 L457.98,169.57 L458.24,168.85 L458.50,168.14 L458.77,167.42 L459.05,166.70 L459.33,165.99 L459.62,165.27 L459.91,164.55 L460.21,163.84 L460.51,163.12 L460.81,162.41 L461.12,161.69 L461.44,160.97 L461.76,160.26 L462.08,159.54 L462.40,158.82 L462.73,158.11 L463.07,157.39 L463.41,156.67 L463.75,155.96 L464.11,155.24 L464.47,154.52 L464.84,153.81 L465.23,153.09 L465.63,152.37 L466.06,151.66 L466.51,150.94 L466.99,150.22 L467.49,149.51 L467.99,148.79 L468.49,148.07 L468.99,147.36 L469.47,146.64 L469.93,145.92 L470.37,145.21 L470.77,144.49 L471.14,143.77 L471.49,143.06 L471.83,142.34 L472.15,141.62 L472.46,140.91 L472.76,140.19 L473.07,139.47 L473.38,138.76 L473.70,138.04 L474.03,137.32 L474.38,136.61 L474.75,135.89 L475.15,135.17 L475.57,134.46 L476.01,133.74 L476.46,133.02 L476.93,132.31 L477.40,131.59 L477.88,130.87 L478.36,130.16 L478.83,129.44 L479.29,128.72 L479.74,128.01 L480.18,127.29 L480.61,126.57 L481.04,125.86 L481.46,125.14 L481.87,124.42 L482.30,123.71 L482.72,122.99 L483.15,122.27 L483.60,121.56 L484.05,120.84 L484.52,120.13 L485.01,119.41 L485.52,118.69 L486.05,117.98 L486.60,117.26 L487.17,116.54 L487.75,115.83 L488.35,115.11 L488.96,114.39 L489.59,113.68 L490.23,112.96 L490.88,112.24 L491.54,111.53 L492.20,110.81 L492.88,110.09 L493.58,109.38 L494.29,108.66 L495.01,107.94 L495.75,107.23 L496.51,106.51 L497.27,105.79 L498.05,105.08 L498.85,104.36 L499.65,103.64 L500.46,102.93 L501.29,102.21 L502.12,101.49 L502.96,100.78 L503.81,100.06 L504.66,99.34 L505.54,98.63 L506.43,97.91 L507.34,97.19 L508.27,96.48 L509.23,95.76 L510.22,95.04 L511.23,94.33 L512.28,93.61 L513.37,92.89 L514.51,92.18 L515.68,91.46 L516.89,90.74 L518.13,90.03 L519.41,89.31 L520.70,88.59 L522.02,87.88 L523.36,87.16 L524.71,86.44 L526.07,85.73 L527.45,85.01 L528.84,84.29 L530.26,83.58 L531.71,82.86 L533.17,82.14 L534.66,81.43 L536.17,80.71 L537.71,80.00 L539.27,79.28 L540.84,78.56 L542.44,77.85 L544.06,77.13 L545.70,76.41" fill="none" stroke="#ff0000" stroke-width="1.4" stroke-dasharray="4.7 3.2"/>
<path d="M309.00,434.00 L328.30,433.25 L339.79,432.50 L348.41,431.75 L355.51,431.00 L360.64,430.25 L363.63,429.50 L366.29,428.74 L368.66,427.99 L370.77,427.24 L372.63,426.49 L374.27,425.74 L375.72,424.99 L377.00,424.24 L378.14,423.49 L379.17,422.74 L380.10,421.99 L380.96,421.24 L381.77,420.49 L382.51,419.74 L383.20,418.98 L383.83,418.23 L384.41,417.48 L384.95,416.73 L385.44,415.98 L385.88,415.23 L386.29,414.48 L386.65,413.73 L386.99,412.98 L387.32,412.23 L387.62,411.48 L387.90,410.73 L388.17,409.97 L388.42,409.22 L388.65,408.47 L388.86,407.72 L389.06,406.97 L389.23,406.22 L389.39,405.47 L389.54,404.72 L389.67,403.97 L389.79,403.22 L389.91,402.47 L390.02,401.72 L390.12,400.97 L390.21,400.21 L390.31,399.46 L390.40,398.71 L390.49,397.96 L390.58,397.21 L390.67,396.46 L390.76,395.71 L390.85,394.96 L390.94,394.21 L391.02,393.46 L391.11,392.71 L391.19,391.96 L391.27,391.21 L391.34,390.45 L391.41,389.70 L391.47,388.95 L391.54,388.20 L391.59,387.45 L391.65,386.70 L391.70,385.95 L391.76,385.20 L391.81,384.45 L391.85,383.70 L391.90,382.95 L391.95,382.20 L391.99,381.45 L392.03,380.69 L392.07,379.94 L392.11,379.19 L392.15,378.44 L392.19,377.69 L392.23,376.94 L392.27,376.19 L392.31,375.44 L392.34,374.69 L392.38,373.94 L392.42,373.19 L392.46,372.44 L392.49,371.69 L392.53,370.93 L392.56,370.18 L392.59,369.43 L392.62,368.68 L392.65,367.93 L392.68,367.18 L392.70,366.43 L392.73,365.68 L392.75,364.93 L392.77,364.18 L392.78,363.43 L392.80,362.68 L392.81,361.92 L392.82,361.17 L392.84,360.42 L392.85,359.67 L392.86,358.92 L392.87,358.17 L392.89,357.42 L392.90,356.67 L392.91,355.92 L392.92,355.17 L392.93,354.42 L392.94,353.67 L392.95,352.92 L392.96,352.16 L392.97,351.41 L392.98,350.66 L392.99,349.91 L393.00,349.16 L393.01,348.41 L393.02,347.66 L393.02,346.91 L393.03,346.16 L393.04,345.41 L393.05,344.66 L393.05,343.91 L393.06,343.16 L393.06,342.40 L393.07,341.65 L393.07,340.90 L393.08,340.15 L393.08,339.40 L393.09,338.65 L393.09,337.90 L393.09,337.15 L393.10,336.40 L393.10,335.65 L393.10,334.90 L393.10,334.15 L393.10,333.40 L393.10,332.64 L393.10,331.89 L393.10,331.14 L393.10,330.39 L393.10,329.64 L393.10,328.89 L393.10,328.14 L393.10,327.39 L393.10,326.64 L393.10,325.89 L393.10,325.14 L393.10,324.39 L393.10,323.64 L393.10,322.88 L393.10,322.13 L393.10,321.38 L393.10,320.63 L393.10,319.88 L393.10,319.13 L393.10,318.38 L393.10,317.63 L393.10,316.88 L393.10,316.13 L393.10,315.38 L393.10,314.63 L393.10,313.87 L393.10,313.12 L393.10,312.37 L393.10,311.62 L393.10,310.87 L393.10,310.12 L393.10,309.37 L393.10,308.62 L393.10,307.87 L393.10,307.12 L393.10,306.37 L393.10,305.62 L393.10,304.87 L393.10,304.11 L393.10,303.36 L393.10,302.61 L393.10,301.86 L393.10,301.11 L393.11,300.36 L393.11,299.61 L393.11,298.86 L393.11,298.11 L393.11,297.36 L393.11,296.61 L393.12,295.86 L393.12,295.11 L393.12,294.35 L393.12,293.60 L393.12,292.85 L393.13,292.10 L393.13,291.35 L393.13,290.60 L393.13,289.85 L393.14,289.10 L393.14,288.35 L393.14,287.60 L393.15,286.85 L393.15,286.10 L393.15,285.35 L393.16,284.59 L393.16,283.84 L393.16,283.09 L393.17,282.34 L393.17,281.59 L393.17,280.84 L393.18,280.09 L393.18,279.34 L393.19,278.59 L393.19,277.84 L393.20,277.09 L393.20,276.34 L393.20,275.59 L393.21,274.83 L393.21,274.08 L393.22,273.33 L393.22,272.58 L393.23,271.83 L393.23,271.08 L393.24,270.33 L393.25,269.58 L393.25,268.83 L393.26,268.08 L393.26,267.33 L393.27,266.58 L393.27,265.82 L393.28,265.07 L393.29,264.32 L393.29,263.57 L393.30,262.82 L393.31,262.07 L393.31,261.32 L393.33,260.57 L393.34,259.82 L393.35,259.07 L393.37,258.32 L393.39,257.57 L393.41,256.82 L393.43,256.06 L393.46,255.31 L393.48,254.56 L393.51,253.81 L393.53,253.06 L393.56,252.31 L393.59,251.56 L393.62,250.81 L393.66,250.06 L393.69,249.31 L393.72,248.56 L393.76,247.81 L393.79,247.06 L393.83,246.30 L393.87,245.55 L393.90,244.80 L393.94,244.05 L393.98,243.30 L394.02,242.55 L394.05,241.80 L394.09,241.05 L394.13,240.30 L394.17,239.55 L394.21,238.80 L394.25,238.05 L394.28,237.30 L394.32,236.54 L394.36,235.79 L394.39,235.04 L394.43,234.29 L394.47,233.54 L394.50,232.79 L394.54,232.04 L394.57,231.29 L394.61,230.54 L394.65,229.79 L394.68,229.04 L394.72,228.29 L394.76,227.54 L394.80,226.78 L394.84,226.03 L394.88,225.28 L394.92,224.53 L394.96,223.78 L395.00,223.03 L395.05,222.28 L395.09,221.53 L395.14,220.78 L395.19,220.03 L395.23,219.28 L395.28,218.53 L395.34,217.77 L395.39,217.02 L395.45,216.27 L395.50,215.52 L395.56,214.77 L395.62,214.02 L395.68,213.27 L395.75,212.52 L395.82,211.77 L395.90,211.02 L395.99,210.27 L396.08,209.52 L396.17,208.77 L396.27,208.01 L396.37,207.26 L396.48,206.51 L396.59,205.76 L396.71,205.01 L396.82,204.26 L396.94,203.51 L397.06,202.76 L397.18,202.01 L397.30,201.26 L397.43,200.51 L397.55,199.76 L397.67,199.01 L397.79,198.25 L397.91,197.50 L398.03,196.75 L398.15,196.00 L398.27,195.25 L398.38,194.50 L398.49,193.75 L398.59,193.00 L398.70,192.25 L398.81,191.50 L398.92,190.75 L399.03,190.00 L399.15,189.25 L399.27,188.49 L399.39,187.74 L399.53,186.99 L399.67,186.24 L399.83,185.49 L400.00,184.74 L400.17,183.99 L400.36,183.24 L400.55,182.49 L400.75,181.74 L400.95,180.99 L401.16,180.24 L401.37,179.49 L401.57,178.73 L401.78,177.98 L401.99,177.23 L402.19,176.48 L402.40,175.73 L402.61,174.98 L402.83,174.23 L403.05,173.48 L403.29,172.73 L403.54,171.98 L403.80,171.23 L404.07,170.48 L404.37,169.72 L404.68,168.97 L405.05,168.22 L405.45,167.47 L405.88,166.72 L406.34,165.97 L406.82,165.22 L407.30,164.47 L407.80,163.72 L408.29,162.97 L408.77,162.22 L409.23,161.47 L409.69,160.72 L410.15,159.96 L410.62,159.21 L411.08,158.46 L411.55,157.71 L412.03,156.96 L412.50,156.21 L412.99,155.46 L413.48,154.71 L413.98,153.96 L414.48,153.21 L415.00,152.46 L415.54,151.71 L416.10,150.96 L416.68,150.20 L417.27,149.45 L417.87,148.70 L418.47,147.95 L419.05,147.20 L419.63,146.45 L420.18,145.70 L420.71,144.95 L421.20,144.20 L421.66,143.45 L422.10,142.70 L422.52,141.95 L422.92,141.20 L423.32,140.44 L423.70,139.69 L424.09,138.94 L424.47,138.19 L424.86,137.44 L425.26,136.69 L425.68,135.94 L426.11,135.19 L426.56,134.44 L427.01,133.69 L427.47,132.94 L427.94,132.19 L428.41,131.44 L428.89,130.68 L429.37,129.93 L429.85,129.18 L430.33,128.43 L430.82,127.68 L431.30,126.93 L431.78,126.18 L432.25,125.43 L432.73,124.68 L433.21,123.93 L433.69,123.18 L434.18,122.43 L434.68,121.67 L435.19,120.92 L435.73,120.17 L436.28,119.42 L436.85,118.67 L437.45,117.92 L438.08,117.17 L438.72,116.42 L439.38,115.67 L440.06,114.92 L440.75,114.17 L441.46,113.42 L442.18,112.67 L442.91,111.91 L443.64,111.16 L444.39,110.41 L445.14,109.66 L445.90,108.91 L446.68,108.16 L447.47,107.41 L448.27,106.66 L449.09,105.91 L449.93,105.16 L450.78,104.41 L451.65,103.66 L452.54,102.91 L453.46,102.15 L454.38,101.40 L455.33,100.65 L456.28,99.90 L457.26,99.15 L458.27,98.40 L459.30,97.65 L460.36,96.90 L461.45,96.15 L462.57,95.40 L463.74,94.65 L464.94,93.90 L466.21,93.15 L467.54,92.39 L468.94,91.64 L470.40,90.89 L471.90,90.14 L473.44,89.39 L475.01,88.64 L476.60,87.89 L478.20,87.14 L479.80,86.39 L481.40,85.64 L482.99,84.89 L484.60,84.14 L486.24,83.39 L487.90,82.63 L489.58,81.88 L491.26,81.13 L492.96,80.38 L494.66,79.63 L496.36,78.88 L498.06,78.13 L499.75,77.38 L501.43,76.63 L503.12,75.88 L504.80,75.13 L506.49,74.38 L508.18,73.62 L509.87,72.87 L511.56,72.12 L513.25,71.37 L514.95,70.62 L516.64,69.87 L518.33,69.12 L520.02,68.37 L521.71,67.62 L523.40,66.87 L525.09,66.12 L526.78,65.37 L528.47,64.62 L530.16,63.86 L531.85,63.11 L533.54,62.36 L535.23,61.61 L536.92,60.86 L538.61,60.11 L540.30,59.36" fill="none" stroke="#007f0e" stroke-width="1.6" stroke-dasharray="2.6 2.2"/>
<path d="M270.00,434.00 L284.98,433.22 L296.53,432.44 L304.38,431.66 L311.54,430.89 L316.78,430.11 L319.90,429.33 L322.67,428.55 L325.12,427.77 L327.29,426.99 L329.19,426.21 L330.87,425.44 L332.34,424.66 L333.63,423.88 L334.77,423.10 L335.79,422.32 L336.72,421.54 L337.58,420.76 L338.37,419.99 L339.09,419.21 L339.76,418.43 L340.37,417.65 L340.93,416.87 L341.44,416.09 L341.91,415.31 L342.34,414.54 L342.74,413.76 L343.11,412.98 L343.46,412.20 L343.78,411.42 L344.08,410.64 L344.37,409.86 L344.64,409.09 L344.89,408.31 L345.12,407.53 L345.35,406.75 L345.56,405.97 L345.76,405.19 L345.96,404.41 L346.16,403.64 L346.35,402.86 L346.53,402.08 L346.70,401.30 L346.86,400.52 L347.01,399.74 L347.14,398.96 L347.26,398.19 L347.36,397.41 L347.44,396.63 L347.52,395.85 L347.60,395.07 L347.67,394.29 L347.74,393.52 L347.80,392.74 L347.85,391.96 L347.90,391.18 L347.94,390.40 L347.97,389.62 L348.00,388.84 L348.01,388.07 L348.03,387.29 L348.04,386.51 L348.05,385.73 L348.06,384.95 L348.07,384.17 L348.08,383.39 L348.09,382.62 L348.10,381.84 L348.10,381.06 L348.10,380.28 L348.10,379.50 L348.10,378.72 L348.10,377.94 L348.10,377.17 L348.10,376.39 L348.10,375.61 L348.10,374.83 L348.10,374.05 L348.10,373.27 L348.10,372.49 L348.10,371.72 L348.10,370.94 L348.10,370.16 L348.10,369.38 L348.10,368.60 L348.10,367.82 L348.10,367.04 L348.10,366.27 L348.10,365.49 L348.10,364.71 L348.10,363.93 L348.10,363.15 L348.10,362.37 L348.10,361.59 L348.10,360.82 L348.10,360.04 L348.10,359.26 L348.10,358.48 L348.10,357.70 L348.10,356.92 L348.10,356.14 L348.10,355.37 L348.10,354.59 L348.10,353.81 L348.10,353.03 L348.10,352.25 L348.10,351.47 L348.10,350.69 L348.10,349.92 L348.10,349.14 L348.10,348.36 L348.10,347.58 L348.10,346.80 L348.10,346.02 L348.10,345.24 L348.10,344.47 L348.10,343.69 L348.10,342.91 L348.10,342.13 L348.10,341.35 L348.10,340.57 L348.10,339.79 L348.10,339.02 L348.10,338.24 L348.10,337.46 L348.10,336.68 L348.10,335.90 L348.10,335.12 L348.10,334.34 L348.10,333.57 L348.10,332.79 L348.10,332.01 L348.10,331.23 L348.10,330.45 L348.10,329.67 L348.10,328.89 L348.10,328.12 L348.10,327.34 L348.10,326.56 L348.10,325.78 L348.10,325.00 L348.10,324.22 L348.10,323.44 L348.10,322.67 L348.10,321.89 L348.10,321.11 L348.10,320.33 L348.10,319.55 L348.10,318.77 L348.10,317.99 L348.10,317.22 L348.10,316.44 L348.10,315.66 L348.10,314.88 L348.10,314.10 L348.10,313.32 L348.10,312.55 L348.10,311.77 L348.10,310.99 L348.10,310.21 L348.10,309.43 L348.10,308.65 L348.10,307.87 L348.10,307.10 L348.10,306.32 L348.10,305.54 L348.10,304.76 L348.10,303.98 L348.10,303.20 L348.10,302.42 L348.10,301.65 L348.10,300.87 L348.10,300.09 L348.10,299.31 L348.10,298.53 L348.10,297.75 L348.10,296.97 L348.10,296.20 L348.10,295.42 L348.10,294.64 L348.10,293.86 L348.10,293.08 L348.10,292.30 L348.10,291.52 L348.10,290.75 L348.11,289.97 L348.11,289.19 L348.11,288.41 L348.11,287.63 L348.11,286.85 L348.11,286.07 L348.11,285.30 L348.11,284.52 L348.11,283.74 L348.11,282.96 L348.11,282.18 L348.11,281.40 L348.11,280.62 L348.11,279.85 L348.12,279.07 L348.12,278.29 L348.12,277.51 L348.12,276.73 L348.12,275.95 L348.12,275.17 L348.12,274.40 L348.12,273.62 L348.12,272.84 L348.13,272.06 L348.13,271.28 L348.13,270.50 L348.13,269.72 L348.13,268.95 L348.13,268.17 L348.13,267.39 L348.14,266.61 L348.14,265.83 L348.14,265.05 L348.14,264.27 L348.14,263.50 L348.14,262.72 L348.15,261.94 L348.15,261.16 L348.15,260.38 L348.15,259.60 L348.15,258.82 L348.16,258.05 L348.16,257.27 L348.16,256.49 L348.16,255.71 L348.16,254.93 L348.17,254.15 L348.17,253.37 L348.17,252.60 L348.17,251.82 L348.18,251.04 L348.18,250.26 L348.18,249.48 L348.18,248.70 L348.19,247.92 L348.19,247.15 L348.19,246.37 L348.20,245.59 L348.20,244.81 L348.20,244.03 L348.20,243.25 L348.21,242.47 L348.21,241.70 L348.21,240.92 L348.22,240.14 L348.22,239.36 L348.22,238.58 L348.23,237.80 L348.23,237.03 L348.23,236.25 L348.24,235.47 L348.24,234.69 L348.25,233.91 L348.25,233.13 L348.25,232.35 L348.26,231.58 L348.26,230.80 L348.27,230.02 L348.27,229.24 L348.27,228.46 L348.28,227.68 L348.28,226.90 L348.29,226.13 L348.29,225.35 L348.30,224.57 L348.30,223.79 L348.31,223.01 L348.33,222.23 L348.36,221.45 L348.40,220.68 L348.44,219.90 L348.49,219.12 L348.54,218.34 L348.61,217.56 L348.67,216.78 L348.74,216.00 L348.81,215.23 L348.89,214.45 L348.96,213.67 L349.04,212.89 L349.13,212.11 L349.21,211.33 L349.30,210.55 L349.40,209.78 L349.52,209.00 L349.65,208.22 L349.78,207.44 L349.93,206.66 L350.08,205.88 L350.25,205.10 L350.41,204.33 L350.58,203.55 L350.75,202.77 L350.94,201.99 L351.16,201.21 L351.39,200.43 L351.63,199.65 L351.87,198.88 L352.12,198.10 L352.36,197.32 L352.59,196.54 L352.81,195.76 L353.01,194.98 L353.19,194.20 L353.36,193.43 L353.51,192.65 L353.66,191.87 L353.81,191.09 L353.96,190.31 L354.10,189.53 L354.25,188.75 L354.41,187.98 L354.57,187.20 L354.75,186.42 L354.94,185.64 L355.13,184.86 L355.33,184.08 L355.53,183.30 L355.75,182.53 L355.97,181.75 L356.19,180.97 L356.43,180.19 L356.67,179.41 L356.92,178.63 L357.18,177.85 L357.45,177.08 L357.73,176.30 L358.02,175.52 L358.32,174.74 L358.63,173.96 L358.95,173.18 L359.29,172.40 L359.64,171.63 L360.00,170.85 L360.37,170.07 L360.76,169.29 L361.17,168.51 L361.61,167.73 L362.07,166.95 L362.56,166.18 L363.06,165.40 L363.57,164.62 L364.10,163.84 L364.62,163.06 L365.15,162.28 L365.67,161.51 L366.18,160.73 L366.69,159.95 L367.22,159.17 L367.74,158.39 L368.27,157.61 L368.80,156.83 L369.34,156.06 L369.88,155.28 L370.41,154.50 L370.95,153.72 L371.49,152.94 L372.02,152.16 L372.56,151.38 L373.09,150.61 L373.63,149.83 L374.17,149.05 L374.71,148.27 L375.25,147.49 L375.79,146.71 L376.33,145.93 L376.86,145.16 L377.38,144.38 L377.90,143.60 L378.40,142.82 L378.90,142.04 L379.39,141.26 L379.88,140.48 L380.37,139.71 L380.86,138.93 L381.36,138.15 L381.86,137.37 L382.38,136.59 L382.90,135.81 L383.45,135.03 L384.01,134.26 L384.60,133.48 L385.20,132.70 L385.82,131.92 L386.44,131.14 L387.07,130.36 L387.69,129.58 L388.31,128.81 L388.92,128.03 L389.51,127.25 L390.08,126.47 L390.63,125.69 L391.17,124.91 L391.70,124.13 L392.23,123.36 L392.76,122.58 L393.31,121.80 L393.88,121.02 L394.48,120.24 L395.11,119.46 L395.78,118.68 L396.50,117.91 L397.27,117.13 L398.08,116.35 L398.91,115.57 L399.77,114.79 L400.65,114.01 L401.54,113.23 L402.43,112.46 L403.31,111.68 L404.17,110.90 L405.02,110.12 L405.84,109.34 L406.65,108.56 L407.46,107.78 L408.26,107.01 L409.08,106.23 L409.92,105.45 L410.79,104.67 L411.69,103.89 L412.63,103.11 L413.62,102.33 L414.68,101.56 L415.81,100.78 L417.01,100.00 L418.25,99.22 L419.55,98.44 L420.88,97.66 L422.24,96.88 L423.61,96.11 L424.99,95.33 L426.38,94.55 L427.75,93.77 L429.12,92.99 L430.49,92.21 L431.87,91.43 L433.26,90.66 L434.67,89.88 L436.11,89.10 L437.57,88.32 L439.07,87.54 L440.60,86.76 L442.18,85.98 L443.81,85.21 L445.52,84.43 L447.30,83.65 L449.14,82.87 L451.03,82.09 L452.95,81.31 L454.91,80.54 L456.87,79.76 L458.82,78.98 L460.77,78.20 L462.68,77.42 L464.56,76.64 L466.45,75.86 L468.34,75.09 L470.24,74.31 L472.13,73.53 L474.02,72.75 L475.90,71.97 L477.77,71.19 L479.61,70.41 L481.43,69.64 L483.22,68.86 L484.97,68.08 L486.68,67.30 L488.36,66.52 L490.01,65.74 L491.65,64.96 L493.28,64.19 L494.91,63.41 L496.54,62.63 L498.20,61.85 L499.88,61.07 L501.59,60.29 L503.35,59.51 L505.13,58.74 L506.93,57.96 L508.76,57.18 L510.59,56.40 L512.44,55.62 L514.28,54.84 L516.12,54.06 L517.95,53.29 L519.77,52.51 L521.56,51.73 L523.34,50.95 L525.11,50.17 L526.88,49.39 L528.64,48.61 L530.39,47.84 L532.13,47.06 L533.87,46.28 L535.60,45.50" fill="none" stroke="#0000cc" stroke-width="1.4" stroke-dasharray="4.7 3.2"/>
<path d="M232.00,434.00 L247.53,433.19 L257.32,432.38 L265.07,431.58 L274.26,430.77 L280.21,429.96 L283.66,429.15 L286.68,428.34 L289.30,427.54 L291.56,426.73 L293.50,425.92 L295.16,425.11 L296.59,424.30 L297.81,423.50 L298.88,422.69 L299.82,421.88 L300.68,421.07 L301.47,420.26 L302.18,419.46 L302.84,418.65 L303.43,417.84 L303.96,417.03 L304.44,416.22 L304.88,415.42 L305.27,414.61 L305.62,413.80 L305.94,412.99 L306.25,412.18 L306.54,411.38 L306.81,410.57 L307.06,409.76 L307.29,408.95 L307.50,408.14 L307.68,407.34 L307.83,406.53 L307.96,405.72 L308.07,404.91 L308.16,404.10 L308.25,403.30 L308.33,402.49 L308.41,401.68 L308.48,400.87 L308.54,400.06 L308.59,399.26 L308.64,398.45 L308.68,397.64 L308.71,396.83 L308.74,396.02 L308.76,395.22 L308.79,394.41 L308.82,393.60 L308.84,392.79 L308.86,391.98 L308.89,391.18 L308.91,390.37 L308.92,389.56 L308.94,388.75 L308.96,387.94 L308.97,387.14 L308.98,386.33 L308.99,385.52 L308.99,384.71 L309.00,383.90 L309.00,383.09 L309.00,382.29 L309.01,381.48 L309.01,380.67 L309.01,379.86 L309.01,379.05 L309.02,378.25 L309.02,377.44 L309.02,376.63 L309.02,375.82 L309.02,375.01 L309.03,374.21 L309.03,373.40 L309.03,372.59 L309.03,371.78 L309.03,370.97 L309.03,370.17 L309.04,369.36 L309.04,368.55 L309.04,367.74 L309.04,366.93 L309.04,366.13 L309.04,365.32 L309.05,364.51 L309.05,363.70 L309.05,362.89 L309.05,362.09 L309.05,361.28 L309.05,360.47 L309.05,359.66 L309.05,358.85 L309.05,358.05 L309.06,357.24 L309.06,356.43 L309.06,355.62 L309.06,354.81 L309.06,354.01 L309.06,353.20 L309.06,352.39 L309.06,351.58 L309.06,350.77 L309.06,349.97 L309.07,349.16 L309.07,348.35 L309.07,347.54 L309.07,346.73 L309.07,345.93 L309.07,345.12 L309.07,344.31 L309.07,343.50 L309.07,342.69 L309.07,341.89 L309.07,341.08 L309.07,340.27 L309.07,339.46 L309.07,338.65 L309.07,337.85 L309.08,337.04 L309.08,336.23 L309.08,335.42 L309.08,334.61 L309.08,333.81 L309.08,333.00 L309.08,332.19 L309.08,331.38 L309.08,330.57 L309.08,329.77 L309.08,328.96 L309.08,328.15 L309.08,327.34 L309.08,326.53 L309.08,325.73 L309.08,324.92 L309.08,324.11 L309.09,323.30 L309.09,322.49 L309.09,321.69 L309.09,320.88 L309.09,320.07 L309.09,319.26 L309.09,318.45 L309.09,317.65 L309.09,316.84 L309.09,316.03 L309.09,315.22 L309.09,314.41 L309.09,313.61 L309.09,312.80 L309.10,311.99 L309.10,311.18 L309.10,310.37 L309.10,309.57 L309.10,308.76 L309.10,307.95 L309.10,307.14 L309.10,306.33 L309.10,305.53 L309.10,304.72 L309.10,303.91 L309.11,303.10 L309.11,302.29 L309.11,301.49 L309.11,300.68 L309.11,299.87 L309.11,299.06 L309.11,298.25 L309.11,297.45 L309.11,296.64 L309.11,295.83 L309.11,295.02 L309.11,294.21 L309.11,293.41 L309.11,292.60 L309.11,291.79 L309.12,290.98 L309.12,290.17 L309.12,289.37 L309.12,288.56 L309.12,287.75 L309.12,286.94 L309.12,286.13 L309.12,285.33 L309.12,284.52 L309.12,283.71 L309.12,282.90 L309.12,282.09 L309.12,281.28 L309.12,280.48 L309.12,279.67 L309.12,278.86 L309.12,278.05 L309.12,277.24 L309.12,276.44 L309.12,275.63 L309.12,274.82 L309.12,274.01 L309.12,273.20 L309.13,272.40 L309.13,271.59 L309.13,270.78 L309.13,269.97 L309.13,269.16 L309.13,268.36 L309.13,267.55 L309.13,266.74 L309.13,265.93 L309.13,265.12 L309.13,264.32 L309.13,263.51 L309.13,262.70 L309.13,261.89 L309.13,261.08 L309.13,260.28 L309.13,259.47 L309.13,258.66 L309.13,257.85 L309.13,257.04 L309.14,256.24 L309.14,255.43 L309.14,254.62 L309.14,253.81 L309.14,253.00 L309.14,252.20 L309.14,251.39 L309.14,250.58 L309.14,249.77 L309.14,248.96 L309.14,248.16 L309.14,247.35 L309.14,246.54 L309.14,245.73 L309.15,244.92 L309.15,244.12 L309.15,243.31 L309.15,242.50 L309.15,241.69 L309.15,240.88 L309.15,240.08 L309.15,239.27 L309.15,238.46 L309.15,237.65 L309.16,236.84 L309.16,236.04 L309.16,235.23 L309.16,234.42 L309.16,233.61 L309.16,232.80 L309.16,232.00 L309.16,231.19 L309.17,230.38 L309.17,229.57 L309.17,228.76 L309.17,227.96 L309.17,227.15 L309.17,226.34 L309.18,225.53 L309.18,224.72 L309.18,223.92 L309.18,223.11 L309.18,222.30 L309.18,221.49 L309.19,220.68 L309.19,219.88 L309.19,219.07 L309.19,218.26 L309.19,217.45 L309.20,216.64 L309.20,215.84 L309.20,215.03 L309.22,214.22 L309.24,213.41 L309.27,212.60 L309.30,211.80 L309.34,210.99 L309.39,210.18 L309.45,209.37 L309.51,208.56 L309.57,207.76 L309.64,206.95 L309.71,206.14 L309.78,205.33 L309.85,204.52 L309.93,203.72 L310.01,202.91 L310.10,202.10 L310.20,201.29 L310.33,200.48 L310.46,199.68 L310.61,198.87 L310.76,198.06 L310.93,197.25 L311.10,196.44 L311.27,195.64 L311.45,194.83 L311.63,194.02 L311.84,193.21 L312.05,192.40 L312.28,191.60 L312.52,190.79 L312.77,189.98 L313.02,189.17 L313.28,188.36 L313.54,187.56 L313.79,186.75 L314.05,185.94 L314.30,185.13 L314.56,184.32 L314.82,183.52 L315.09,182.71 L315.37,181.90 L315.65,181.09 L315.95,180.28 L316.26,179.47 L316.59,178.67 L316.93,177.86 L317.30,177.05 L317.69,176.24 L318.09,175.43 L318.51,174.63 L318.95,173.82 L319.39,173.01 L319.85,172.20 L320.32,171.39 L320.79,170.59 L321.28,169.78 L321.78,168.97 L322.29,168.16 L322.82,167.35 L323.36,166.55 L323.92,165.74 L324.49,164.93 L325.07,164.12 L325.67,163.31 L326.28,162.51 L326.91,161.70 L327.57,160.89 L328.27,160.08 L328.99,159.27 L329.74,158.47 L330.51,157.66 L331.28,156.85 L332.06,156.04 L332.83,155.23 L333.59,154.43 L334.34,153.62 L335.07,152.81 L335.80,152.00 L336.53,151.19 L337.26,150.39 L337.99,149.58 L338.72,148.77 L339.44,147.96 L340.15,147.15 L340.86,146.35 L341.57,145.54 L342.27,144.73 L342.96,143.92 L343.66,143.11 L344.35,142.31 L345.04,141.50 L345.72,140.69 L346.40,139.88 L347.07,139.07 L347.74,138.27 L348.39,137.46 L349.03,136.65 L349.67,135.84 L350.29,135.03 L350.89,134.23 L351.48,133.42 L352.06,132.61 L352.63,131.80 L353.21,130.99 L353.78,130.19 L354.36,129.38 L354.95,128.57 L355.54,127.76 L356.14,126.95 L356.74,126.15 L357.33,125.34 L357.93,124.53 L358.53,123.72 L359.14,122.91 L359.76,122.11 L360.39,121.30 L361.04,120.49 L361.71,119.68 L362.41,118.87 L363.13,118.07 L363.87,117.26 L364.62,116.45 L365.40,115.64 L366.20,114.83 L367.02,114.03 L367.86,113.22 L368.71,112.41 L369.59,111.60 L370.48,110.79 L371.40,109.99 L372.33,109.18 L373.29,108.37 L374.28,107.56 L375.29,106.75 L376.32,105.95 L377.39,105.14 L378.48,104.33 L379.60,103.52 L380.75,102.71 L381.94,101.91 L383.17,101.10 L384.45,100.29 L385.77,99.48 L387.13,98.67 L388.52,97.87 L389.95,97.06 L391.40,96.25 L392.87,95.44 L394.35,94.63 L395.85,93.83 L397.37,93.02 L398.91,92.21 L400.48,91.40 L402.07,90.59 L403.70,89.79 L405.35,88.98 L407.03,88.17 L408.73,87.36 L410.47,86.55 L412.24,85.75 L414.04,84.94 L415.90,84.13 L417.81,83.32 L419.77,82.51 L421.76,81.71 L423.78,80.90 L425.80,80.09 L427.83,79.28 L429.86,78.47 L431.87,77.66 L433.85,76.86 L435.83,76.05 L437.81,75.24 L439.79,74.43 L441.78,73.62 L443.76,72.82 L445.74,72.01 L447.71,71.20 L449.68,70.39 L451.63,69.58 L453.58,68.78 L455.50,67.97 L457.40,67.16 L459.28,66.35 L461.15,65.54 L463.02,64.74 L464.88,63.93 L466.76,63.12 L468.64,62.31 L470.55,61.50 L472.49,60.70 L474.47,59.89 L476.50,59.08 L478.57,58.27 L480.68,57.46 L482.80,56.66 L484.92,55.85 L487.02,55.04 L489.09,54.23 L491.11,53.42 L493.06,52.62 L494.95,51.81 L496.80,51.00 L498.62,50.19 L500.40,49.38 L502.17,48.58 L503.92,47.77 L505.66,46.96 L507.39,46.15 L509.12,45.34 L510.86,44.54 L512.61,43.73 L514.35,42.92 L516.10,42.11 L517.84,41.30 L519.57,40.50 L521.30,39.69 L523.01,38.88 L524.71,38.07 L526.39,37.26 L528.05,36.46 L529.69,35.65 L531.30,34.84 L532.90,34.03 L534.48,33.22 L536.03,32.42 L537.57,31.61 L539.10,30.80" fill="none" stroke="#ff8717" stroke-width="1.4" stroke-dasharray="4.7 3.2"/>
<line x1="550.1" y1="30.70" x2="670.5" y2="30.70" stroke="#ff8717" stroke-width="1.7" stroke-dasharray="4.1 4.65"/>
<line x1="542.4" y1="46.10" x2="670.5" y2="46.10" stroke="#0000cc" stroke-width="1.7" stroke-dasharray="4.1 4.65"/>
<line x1="547.7" y1="59.40" x2="670.5" y2="59.40" stroke="#007f0e" stroke-width="1.7" stroke-dasharray="2.6 3.9"/>
<line x1="556.6" y1="76.10" x2="670.5" y2="76.10" stroke="#ff0000" stroke-width="1.7" stroke-dasharray="4.7 4.5"/>
<ellipse cx="414.57" cy="430.22" rx="4.55" ry="4.85" fill="none" stroke="#ff0000" stroke-width="1.4"/>
<ellipse cx="434.28" cy="421.82" rx="4.55" ry="4.85" fill="none" stroke="#ff0000" stroke-width="1.4"/>
<ellipse cx="440.24" cy="413.42" rx="4.55" ry="4.85" fill="none" stroke="#ff0000" stroke-width="1.4"/>
<ellipse cx="443.24" cy="405.02" rx="4.55" ry="4.85" fill="none" stroke="#ff0000" stroke-width="1.4"/>
<ellipse cx="444.46" cy="396.62" rx="4.55" ry="4.85" fill="none" stroke="#ff0000" stroke-width="1.4"/>
<ellipse cx="445.03" cy="388.22" rx="4.55" ry="4.85" fill="none" stroke="#ff0000" stroke-width="1.4"/>
<ellipse cx="445.34" cy="379.82" rx="4.55" ry="4.85" fill="none" stroke="#ff0000" stroke-width="1.4"/>
<ellipse cx="445.57" cy="371.42" rx="4.55" ry="4.85" fill="none" stroke="#ff0000" stroke-width="1.4"/>
<ellipse cx="445.77" cy="363.02" rx="4.55" ry="4.85" fill="none" stroke="#ff0000" stroke-width="1.4"/>
<ellipse cx="445.93" cy="354.62" rx="4.55" ry="4.85" fill="none" stroke="#ff0000" stroke-width="1.4"/>
<ellipse cx="446.05" cy="346.22" rx="4.55" ry="4.85" fill="none" stroke="#ff0000" stroke-width="1.4"/>
<ellipse cx="446.15" cy="337.82" rx="4.55" ry="4.85" fill="none" stroke="#ff0000" stroke-width="1.4"/>
<ellipse cx="446.23" cy="329.42" rx="4.55" ry="4.85" fill="none" stroke="#ff0000" stroke-width="1.4"/>
<ellipse cx="446.31" cy="321.02" rx="4.55" ry="4.85" fill="none" stroke="#ff0000" stroke-width="1.4"/>
<ellipse cx="446.39" cy="312.62" rx="4.55" ry="4.85" fill="none" stroke="#ff0000" stroke-width="1.4"/>
<ellipse cx="446.50" cy="304.22" rx="4.55" ry="4.85" fill="none" stroke="#ff0000" stroke-width="1.4"/>
<ellipse cx="446.60" cy="295.82" rx="4.55" ry="4.85" fill="none" stroke="#ff0000" stroke-width="1.4"/>
<ellipse cx="446.72" cy="287.42" rx="4.55" ry="4.85" fill="none" stroke="#ff0000" stroke-width="1.4"/>
<ellipse cx="446.84" cy="279.02" rx="4.55" ry="4.85" fill="none" stroke="#ff0000" stroke-width="1.4"/>
<ellipse cx="446.97" cy="270.62" rx="4.55" ry="4.85" fill="none" stroke="#ff0000" stroke-width="1.4"/>
<ellipse cx="447.11" cy="262.22" rx="4.55" ry="4.85" fill="none" stroke="#ff0000" stroke-width="1.4"/>
<ellipse cx="447.25" cy="253.82" rx="4.55" ry="4.85" fill="none" stroke="#ff0000" stroke-width="1.4"/>
<ellipse cx="447.42" cy="245.42" rx="4.55" ry="4.85" fill="none" stroke="#ff0000" stroke-width="1.4"/>
<ellipse cx="447.63" cy="237.02" rx="4.55" ry="4.85" fill="none" stroke="#ff0000" stroke-width="1.4"/>
<ellipse cx="447.96" cy="228.62" rx="4.55" ry="4.85" fill="none" stroke="#ff0000" stroke-width="1.4"/>
<ellipse cx="448.47" cy="220.22" rx="4.55" ry="4.85" fill="none" stroke="#ff0000" stroke-width="1.4"/>
<ellipse cx="449.11" cy="211.82" rx="4.55" ry="4.85" fill="none" stroke="#ff0000" stroke-width="1.4"/>
<ellipse cx="450.00" cy="203.42" rx="4.55" ry="4.85" fill="none" stroke="#ff0000" stroke-width="1.4"/>
<ellipse cx="451.12" cy="195.02" rx="4.55" ry="4.85" fill="none" stroke="#ff0000" stroke-width="1.4"/>
<ellipse cx="452.39" cy="186.62" rx="4.55" ry="4.85" fill="none" stroke="#ff0000" stroke-width="1.4"/>
<ellipse cx="455.00" cy="178.22" rx="4.55" ry="4.85" fill="none" stroke="#ff0000" stroke-width="1.4"/>
<ellipse cx="457.90" cy="169.82" rx="4.55" ry="4.85" fill="none" stroke="#ff0000" stroke-width="1.4"/>
<ellipse cx="461.24" cy="161.42" rx="4.55" ry="4.85" fill="none" stroke="#ff0000" stroke-width="1.4"/>
<ellipse cx="465.27" cy="153.02" rx="4.55" ry="4.85" fill="none" stroke="#ff0000" stroke-width="1.4"/>
<ellipse cx="470.70" cy="144.62" rx="4.55" ry="4.85" fill="none" stroke="#ff0000" stroke-width="1.4"/>
<ellipse cx="474.58" cy="136.22" rx="4.55" ry="4.85" fill="none" stroke="#ff0000" stroke-width="1.4"/>
<ellipse cx="479.86" cy="127.82" rx="4.55" ry="4.85" fill="none" stroke="#ff0000" stroke-width="1.4"/>
<ellipse cx="485.00" cy="119.42" rx="4.55" ry="4.85" fill="none" stroke="#ff0000" stroke-width="1.4"/>
<ellipse cx="492.01" cy="111.02" rx="4.55" ry="4.85" fill="none" stroke="#ff0000" stroke-width="1.4"/>
<ellipse cx="500.82" cy="102.62" rx="4.55" ry="4.85" fill="none" stroke="#ff0000" stroke-width="1.4"/>
<ellipse cx="511.39" cy="94.22" rx="4.55" ry="4.85" fill="none" stroke="#ff0000" stroke-width="1.4"/>
<ellipse cx="525.90" cy="85.82" rx="4.55" ry="4.85" fill="none" stroke="#ff0000" stroke-width="1.4"/>
<rect x="356.15" y="425.62" width="9.20" height="9.20" fill="none" stroke="#007f0e" stroke-width="1.5"/>
<rect x="375.70" y="417.22" width="9.20" height="9.20" fill="none" stroke="#007f0e" stroke-width="1.5"/>
<rect x="382.19" y="408.82" width="9.20" height="9.20" fill="none" stroke="#007f0e" stroke-width="1.5"/>
<rect x="384.88" y="400.42" width="9.20" height="9.20" fill="none" stroke="#007f0e" stroke-width="1.5"/>
<rect x="386.05" y="392.02" width="9.20" height="9.20" fill="none" stroke="#007f0e" stroke-width="1.5"/>
<rect x="386.93" y="383.62" width="9.20" height="9.20" fill="none" stroke="#007f0e" stroke-width="1.5"/>
<rect x="387.48" y="375.22" width="9.20" height="9.20" fill="none" stroke="#007f0e" stroke-width="1.5"/>
<rect x="387.90" y="366.82" width="9.20" height="9.20" fill="none" stroke="#007f0e" stroke-width="1.5"/>
<rect x="388.19" y="358.42" width="9.20" height="9.20" fill="none" stroke="#007f0e" stroke-width="1.5"/>
<rect x="388.33" y="350.02" width="9.20" height="9.20" fill="none" stroke="#007f0e" stroke-width="1.5"/>
<rect x="388.43" y="341.62" width="9.20" height="9.20" fill="none" stroke="#007f0e" stroke-width="1.5"/>
<rect x="388.49" y="333.22" width="9.20" height="9.20" fill="none" stroke="#007f0e" stroke-width="1.5"/>
<rect x="388.50" y="324.82" width="9.20" height="9.20" fill="none" stroke="#007f0e" stroke-width="1.5"/>
<rect x="388.50" y="316.42" width="9.20" height="9.20" fill="none" stroke="#007f0e" stroke-width="1.5"/>
<rect x="388.50" y="308.02" width="9.20" height="9.20" fill="none" stroke="#007f0e" stroke-width="1.5"/>
<rect x="388.50" y="299.62" width="9.20" height="9.20" fill="none" stroke="#007f0e" stroke-width="1.5"/>
<rect x="388.52" y="291.22" width="9.20" height="9.20" fill="none" stroke="#007f0e" stroke-width="1.5"/>
<rect x="388.54" y="282.82" width="9.20" height="9.20" fill="none" stroke="#007f0e" stroke-width="1.5"/>
<rect x="388.58" y="274.42" width="9.20" height="9.20" fill="none" stroke="#007f0e" stroke-width="1.5"/>
<rect x="388.64" y="266.02" width="9.20" height="9.20" fill="none" stroke="#007f0e" stroke-width="1.5"/>
<rect x="388.70" y="257.62" width="9.20" height="9.20" fill="none" stroke="#007f0e" stroke-width="1.5"/>
<rect x="388.91" y="249.22" width="9.20" height="9.20" fill="none" stroke="#007f0e" stroke-width="1.5"/>
<rect x="389.27" y="240.82" width="9.20" height="9.20" fill="none" stroke="#007f0e" stroke-width="1.5"/>
<rect x="389.70" y="232.42" width="9.20" height="9.20" fill="none" stroke="#007f0e" stroke-width="1.5"/>
<rect x="390.10" y="224.02" width="9.20" height="9.20" fill="none" stroke="#007f0e" stroke-width="1.5"/>
<rect x="390.57" y="215.62" width="9.20" height="9.20" fill="none" stroke="#007f0e" stroke-width="1.5"/>
<rect x="391.22" y="207.22" width="9.20" height="9.20" fill="none" stroke="#007f0e" stroke-width="1.5"/>
<rect x="392.35" y="198.82" width="9.20" height="9.20" fill="none" stroke="#007f0e" stroke-width="1.5"/>
<rect x="393.70" y="190.42" width="9.20" height="9.20" fill="none" stroke="#007f0e" stroke-width="1.5"/>
<rect x="395.00" y="182.02" width="9.20" height="9.20" fill="none" stroke="#007f0e" stroke-width="1.5"/>
<rect x="397.12" y="173.62" width="9.20" height="9.20" fill="none" stroke="#007f0e" stroke-width="1.5"/>
<rect x="399.73" y="165.22" width="9.20" height="9.20" fill="none" stroke="#007f0e" stroke-width="1.5"/>
<rect x="404.66" y="156.82" width="9.20" height="9.20" fill="none" stroke="#007f0e" stroke-width="1.5"/>
<rect x="410.01" y="148.42" width="9.20" height="9.20" fill="none" stroke="#007f0e" stroke-width="1.5"/>
<rect x="416.33" y="140.02" width="9.20" height="9.20" fill="none" stroke="#007f0e" stroke-width="1.5"/>
<rect x="420.92" y="131.62" width="9.20" height="9.20" fill="none" stroke="#007f0e" stroke-width="1.5"/>
<rect x="426.13" y="123.22" width="9.20" height="9.20" fill="none" stroke="#007f0e" stroke-width="1.5"/>
<rect x="431.68" y="114.82" width="9.20" height="9.20" fill="none" stroke="#007f0e" stroke-width="1.5"/>
<rect x="439.18" y="106.42" width="9.20" height="9.20" fill="none" stroke="#007f0e" stroke-width="1.5"/>
<rect x="448.29" y="98.02" width="9.20" height="9.20" fill="none" stroke="#007f0e" stroke-width="1.5"/>
<rect x="459.82" y="89.62" width="9.20" height="9.20" fill="none" stroke="#007f0e" stroke-width="1.5"/>
<rect x="476.41" y="81.22" width="9.20" height="9.20" fill="none" stroke="#007f0e" stroke-width="1.5"/>
<rect x="495.06" y="72.82" width="9.20" height="9.20" fill="none" stroke="#007f0e" stroke-width="1.5"/>
<rect x="513.95" y="64.42" width="9.20" height="9.20" fill="none" stroke="#007f0e" stroke-width="1.5"/>
<path d="M316.30,425.52 L320.80,430.22 L316.30,434.92 L311.80,430.22 Z" fill="none" stroke="#0000cc" stroke-width="1.05" stroke-linejoin="round"/>
<path d="M336.40,417.12 L340.90,421.82 L336.40,426.52 L331.90,421.82 Z" fill="none" stroke="#0000cc" stroke-width="1.05" stroke-linejoin="round"/>
<path d="M342.90,408.72 L347.40,413.42 L342.90,418.12 L338.40,413.42 Z" fill="none" stroke="#0000cc" stroke-width="1.05" stroke-linejoin="round"/>
<path d="M345.81,400.32 L350.31,405.02 L345.81,409.72 L341.31,405.02 Z" fill="none" stroke="#0000cc" stroke-width="1.05" stroke-linejoin="round"/>
<path d="M347.44,391.92 L351.94,396.62 L347.44,401.32 L342.94,396.62 Z" fill="none" stroke="#0000cc" stroke-width="1.05" stroke-linejoin="round"/>
<path d="M348.01,383.52 L352.51,388.22 L348.01,392.92 L343.51,388.22 Z" fill="none" stroke="#0000cc" stroke-width="1.05" stroke-linejoin="round"/>
<path d="M348.10,375.12 L352.60,379.82 L348.10,384.52 L343.60,379.82 Z" fill="none" stroke="#0000cc" stroke-width="1.05" stroke-linejoin="round"/>
<path d="M348.10,366.72 L352.60,371.42 L348.10,376.12 L343.60,371.42 Z" fill="none" stroke="#0000cc" stroke-width="1.05" stroke-linejoin="round"/>
<path d="M348.10,358.32 L352.60,363.02 L348.10,367.72 L343.60,363.02 Z" fill="none" stroke="#0000cc" stroke-width="1.05" stroke-linejoin="round"/>
<path d="M348.10,349.92 L352.60,354.62 L348.10,359.32 L343.60,354.62 Z" fill="none" stroke="#0000cc" stroke-width="1.05" stroke-linejoin="round"/>
<path d="M348.10,341.52 L352.60,346.22 L348.10,350.92 L343.60,346.22 Z" fill="none" stroke="#0000cc" stroke-width="1.05" stroke-linejoin="round"/>
<path d="M348.10,333.12 L352.60,337.82 L348.10,342.52 L343.60,337.82 Z" fill="none" stroke="#0000cc" stroke-width="1.05" stroke-linejoin="round"/>
<path d="M348.10,324.72 L352.60,329.42 L348.10,334.12 L343.60,329.42 Z" fill="none" stroke="#0000cc" stroke-width="1.05" stroke-linejoin="round"/>
<path d="M348.10,316.32 L352.60,321.02 L348.10,325.72 L343.60,321.02 Z" fill="none" stroke="#0000cc" stroke-width="1.05" stroke-linejoin="round"/>
<path d="M348.10,307.92 L352.60,312.62 L348.10,317.32 L343.60,312.62 Z" fill="none" stroke="#0000cc" stroke-width="1.05" stroke-linejoin="round"/>
<path d="M348.10,299.52 L352.60,304.22 L348.10,308.92 L343.60,304.22 Z" fill="none" stroke="#0000cc" stroke-width="1.05" stroke-linejoin="round"/>
<path d="M348.10,291.12 L352.60,295.82 L348.10,300.52 L343.60,295.82 Z" fill="none" stroke="#0000cc" stroke-width="1.05" stroke-linejoin="round"/>
<path d="M348.11,282.72 L352.61,287.42 L348.11,292.12 L343.61,287.42 Z" fill="none" stroke="#0000cc" stroke-width="1.05" stroke-linejoin="round"/>
<path d="M348.12,274.32 L352.62,279.02 L348.12,283.72 L343.62,279.02 Z" fill="none" stroke="#0000cc" stroke-width="1.05" stroke-linejoin="round"/>
<path d="M348.13,265.92 L352.63,270.62 L348.13,275.32 L343.63,270.62 Z" fill="none" stroke="#0000cc" stroke-width="1.05" stroke-linejoin="round"/>
<path d="M348.15,257.52 L352.65,262.22 L348.15,266.92 L343.65,262.22 Z" fill="none" stroke="#0000cc" stroke-width="1.05" stroke-linejoin="round"/>
<path d="M348.17,249.12 L352.67,253.82 L348.17,258.52 L343.67,253.82 Z" fill="none" stroke="#0000cc" stroke-width="1.05" stroke-linejoin="round"/>
<path d="M348.20,240.72 L352.70,245.42 L348.20,250.12 L343.70,245.42 Z" fill="none" stroke="#0000cc" stroke-width="1.05" stroke-linejoin="round"/>
<path d="M348.23,232.32 L352.73,237.02 L348.23,241.72 L343.73,237.02 Z" fill="none" stroke="#0000cc" stroke-width="1.05" stroke-linejoin="round"/>
<path d="M348.27,223.92 L352.77,228.62 L348.27,233.32 L343.77,228.62 Z" fill="none" stroke="#0000cc" stroke-width="1.05" stroke-linejoin="round"/>
<path d="M348.42,215.52 L352.92,220.22 L348.42,224.92 L343.92,220.22 Z" fill="none" stroke="#0000cc" stroke-width="1.05" stroke-linejoin="round"/>
<path d="M349.16,207.12 L353.66,211.82 L349.16,216.52 L344.66,211.82 Z" fill="none" stroke="#0000cc" stroke-width="1.05" stroke-linejoin="round"/>
<path d="M350.61,198.72 L355.11,203.42 L350.61,208.12 L346.11,203.42 Z" fill="none" stroke="#0000cc" stroke-width="1.05" stroke-linejoin="round"/>
<path d="M353.00,190.32 L357.50,195.02 L353.00,199.72 L348.50,195.02 Z" fill="none" stroke="#0000cc" stroke-width="1.05" stroke-linejoin="round"/>
<path d="M354.70,181.92 L359.20,186.62 L354.70,191.32 L350.20,186.62 Z" fill="none" stroke="#0000cc" stroke-width="1.05" stroke-linejoin="round"/>
<path d="M357.06,173.52 L361.56,178.22 L357.06,182.92 L352.56,178.22 Z" fill="none" stroke="#0000cc" stroke-width="1.05" stroke-linejoin="round"/>
<path d="M360.49,165.12 L364.99,169.82 L360.49,174.52 L355.99,169.82 Z" fill="none" stroke="#0000cc" stroke-width="1.05" stroke-linejoin="round"/>
<path d="M365.72,156.72 L370.22,161.42 L365.72,166.12 L361.22,161.42 Z" fill="none" stroke="#0000cc" stroke-width="1.05" stroke-linejoin="round"/>
<path d="M371.43,148.32 L375.93,153.02 L371.43,157.72 L366.93,153.02 Z" fill="none" stroke="#0000cc" stroke-width="1.05" stroke-linejoin="round"/>
<path d="M377.22,139.92 L381.72,144.62 L377.22,149.32 L372.72,144.62 Z" fill="none" stroke="#0000cc" stroke-width="1.05" stroke-linejoin="round"/>
<path d="M382.63,131.52 L387.13,136.22 L382.63,140.92 L378.13,136.22 Z" fill="none" stroke="#0000cc" stroke-width="1.05" stroke-linejoin="round"/>
<path d="M389.08,123.12 L393.58,127.82 L389.08,132.52 L384.58,127.82 Z" fill="none" stroke="#0000cc" stroke-width="1.05" stroke-linejoin="round"/>
<path d="M395.14,114.72 L399.64,119.42 L395.14,124.12 L390.64,119.42 Z" fill="none" stroke="#0000cc" stroke-width="1.05" stroke-linejoin="round"/>
<path d="M404.04,106.32 L408.54,111.02 L404.04,115.72 L399.54,111.02 Z" fill="none" stroke="#0000cc" stroke-width="1.05" stroke-linejoin="round"/>
<path d="M413.25,97.92 L417.75,102.62 L413.25,107.32 L408.75,102.62 Z" fill="none" stroke="#0000cc" stroke-width="1.05" stroke-linejoin="round"/>
<path d="M426.96,89.52 L431.46,94.22 L426.96,98.92 L422.46,94.22 Z" fill="none" stroke="#0000cc" stroke-width="1.05" stroke-linejoin="round"/>
<path d="M442.52,81.12 L447.02,85.82 L442.52,90.52 L438.02,85.82 Z" fill="none" stroke="#0000cc" stroke-width="1.05" stroke-linejoin="round"/>
<path d="M462.68,72.72 L467.18,77.42 L462.68,82.12 L458.18,77.42 Z" fill="none" stroke="#0000cc" stroke-width="1.05" stroke-linejoin="round"/>
<path d="M482.85,64.32 L487.35,69.02 L482.85,73.72 L478.35,69.02 Z" fill="none" stroke="#0000cc" stroke-width="1.05" stroke-linejoin="round"/>
<path d="M500.87,55.92 L505.37,60.62 L500.87,65.32 L496.37,60.62 Z" fill="none" stroke="#0000cc" stroke-width="1.05" stroke-linejoin="round"/>
<path d="M520.43,47.52 L524.93,52.22 L520.43,56.92 L515.93,52.22 Z" fill="none" stroke="#0000cc" stroke-width="1.05" stroke-linejoin="round"/>
<path d="M279.00,425.77 L283.55,434.67 L274.45,434.67 Z" fill="none" stroke="#ff8717" stroke-width="1.2" stroke-linejoin="round"/>
<path d="M299.89,417.37 L304.44,426.27 L295.34,426.27 Z" fill="none" stroke="#ff8717" stroke-width="1.2" stroke-linejoin="round"/>
<path d="M305.77,408.97 L310.32,417.87 L301.22,417.87 Z" fill="none" stroke="#ff8717" stroke-width="1.2" stroke-linejoin="round"/>
<path d="M308.05,400.57 L312.60,409.47 L303.50,409.47 Z" fill="none" stroke="#ff8717" stroke-width="1.2" stroke-linejoin="round"/>
<path d="M308.72,392.17 L313.27,401.07 L304.17,401.07 Z" fill="none" stroke="#ff8717" stroke-width="1.2" stroke-linejoin="round"/>
<path d="M308.95,383.77 L313.50,392.67 L304.40,392.67 Z" fill="none" stroke="#ff8717" stroke-width="1.2" stroke-linejoin="round"/>
<path d="M309.01,375.37 L313.56,384.27 L304.46,384.27 Z" fill="none" stroke="#ff8717" stroke-width="1.2" stroke-linejoin="round"/>
<path d="M309.03,366.97 L313.58,375.87 L304.48,375.87 Z" fill="none" stroke="#ff8717" stroke-width="1.2" stroke-linejoin="round"/>
<path d="M309.05,358.57 L313.60,367.47 L304.50,367.47 Z" fill="none" stroke="#ff8717" stroke-width="1.2" stroke-linejoin="round"/>
<path d="M309.06,350.17 L313.61,359.07 L304.51,359.07 Z" fill="none" stroke="#ff8717" stroke-width="1.2" stroke-linejoin="round"/>
<path d="M309.07,341.77 L313.62,350.67 L304.52,350.67 Z" fill="none" stroke="#ff8717" stroke-width="1.2" stroke-linejoin="round"/>
<path d="M309.07,333.37 L313.62,342.27 L304.52,342.27 Z" fill="none" stroke="#ff8717" stroke-width="1.2" stroke-linejoin="round"/>
<path d="M309.08,324.97 L313.63,333.87 L304.53,333.87 Z" fill="none" stroke="#ff8717" stroke-width="1.2" stroke-linejoin="round"/>
<path d="M309.09,316.57 L313.64,325.47 L304.54,325.47 Z" fill="none" stroke="#ff8717" stroke-width="1.2" stroke-linejoin="round"/>
<path d="M309.09,308.17 L313.64,317.07 L304.54,317.07 Z" fill="none" stroke="#ff8717" stroke-width="1.2" stroke-linejoin="round"/>
<path d="M309.10,299.77 L313.65,308.67 L304.55,308.67 Z" fill="none" stroke="#ff8717" stroke-width="1.2" stroke-linejoin="round"/>
<path d="M309.11,291.37 L313.66,300.27 L304.56,300.27 Z" fill="none" stroke="#ff8717" stroke-width="1.2" stroke-linejoin="round"/>
<path d="M309.12,282.97 L313.67,291.87 L304.57,291.87 Z" fill="none" stroke="#ff8717" stroke-width="1.2" stroke-linejoin="round"/>
<path d="M309.12,274.57 L313.67,283.47 L304.57,283.47 Z" fill="none" stroke="#ff8717" stroke-width="1.2" stroke-linejoin="round"/>
<path d="M309.13,266.17 L313.68,275.07 L304.58,275.07 Z" fill="none" stroke="#ff8717" stroke-width="1.2" stroke-linejoin="round"/>
<path d="M309.13,257.77 L313.68,266.67 L304.58,266.67 Z" fill="none" stroke="#ff8717" stroke-width="1.2" stroke-linejoin="round"/>
<path d="M309.14,249.37 L313.69,258.27 L304.59,258.27 Z" fill="none" stroke="#ff8717" stroke-width="1.2" stroke-linejoin="round"/>
<path d="M309.14,240.97 L313.69,249.87 L304.59,249.87 Z" fill="none" stroke="#ff8717" stroke-width="1.2" stroke-linejoin="round"/>
<path d="M309.16,232.57 L313.71,241.47 L304.61,241.47 Z" fill="none" stroke="#ff8717" stroke-width="1.2" stroke-linejoin="round"/>
<path d="M309.17,224.17 L313.72,233.07 L304.62,233.07 Z" fill="none" stroke="#ff8717" stroke-width="1.2" stroke-linejoin="round"/>
<path d="M309.19,215.77 L313.74,224.67 L304.64,224.67 Z" fill="none" stroke="#ff8717" stroke-width="1.2" stroke-linejoin="round"/>
<path d="M309.30,207.37 L313.85,216.27 L304.75,216.27 Z" fill="none" stroke="#ff8717" stroke-width="1.2" stroke-linejoin="round"/>
<path d="M309.96,198.97 L314.51,207.87 L305.41,207.87 Z" fill="none" stroke="#ff8717" stroke-width="1.2" stroke-linejoin="round"/>
<path d="M311.41,190.57 L315.96,199.47 L306.86,199.47 Z" fill="none" stroke="#ff8717" stroke-width="1.2" stroke-linejoin="round"/>
<path d="M313.83,182.17 L318.38,191.07 L309.28,191.07 Z" fill="none" stroke="#ff8717" stroke-width="1.2" stroke-linejoin="round"/>
<path d="M316.78,173.77 L321.33,182.67 L312.23,182.67 Z" fill="none" stroke="#ff8717" stroke-width="1.2" stroke-linejoin="round"/>
<path d="M321.25,165.37 L325.80,174.27 L316.70,174.27 Z" fill="none" stroke="#ff8717" stroke-width="1.2" stroke-linejoin="round"/>
<path d="M327.13,156.97 L331.68,165.87 L322.58,165.87 Z" fill="none" stroke="#ff8717" stroke-width="1.2" stroke-linejoin="round"/>
<path d="M334.88,148.57 L339.43,157.47 L330.33,157.47 Z" fill="none" stroke="#ff8717" stroke-width="1.2" stroke-linejoin="round"/>
<path d="M342.36,140.17 L346.91,149.07 L337.81,149.07 Z" fill="none" stroke="#ff8717" stroke-width="1.2" stroke-linejoin="round"/>
<path d="M349.37,131.77 L353.92,140.67 L344.82,140.67 Z" fill="none" stroke="#ff8717" stroke-width="1.2" stroke-linejoin="round"/>
<path d="M355.50,123.37 L360.05,132.27 L350.95,132.27 Z" fill="none" stroke="#ff8717" stroke-width="1.2" stroke-linejoin="round"/>
<path d="M361.94,114.97 L366.49,123.87 L357.39,123.87 Z" fill="none" stroke="#ff8717" stroke-width="1.2" stroke-linejoin="round"/>
<path d="M370.23,106.57 L374.78,115.47 L365.68,115.47 Z" fill="none" stroke="#ff8717" stroke-width="1.2" stroke-linejoin="round"/>
<path d="M380.89,98.17 L385.44,107.07 L376.34,107.07 Z" fill="none" stroke="#ff8717" stroke-width="1.2" stroke-linejoin="round"/>
<path d="M395.12,89.77 L399.67,98.67 L390.57,98.67 Z" fill="none" stroke="#ff8717" stroke-width="1.2" stroke-linejoin="round"/>
<path d="M412.07,81.37 L416.62,90.27 L407.52,90.27 Z" fill="none" stroke="#ff8717" stroke-width="1.2" stroke-linejoin="round"/>
<path d="M432.47,72.97 L437.02,81.87 L427.92,81.87 Z" fill="none" stroke="#ff8717" stroke-width="1.2" stroke-linejoin="round"/>
<path d="M452.99,64.57 L457.54,73.47 L448.44,73.47 Z" fill="none" stroke="#ff8717" stroke-width="1.2" stroke-linejoin="round"/>
<path d="M472.68,56.17 L477.23,65.07 L468.13,65.07 Z" fill="none" stroke="#ff8717" stroke-width="1.2" stroke-linejoin="round"/>
<path d="M493.99,47.77 L498.54,56.67 L489.44,56.67 Z" fill="none" stroke="#ff8717" stroke-width="1.2" stroke-linejoin="round"/>
<path d="M512.41,39.37 L516.96,48.27 L507.86,48.27 Z" fill="none" stroke="#ff8717" stroke-width="1.2" stroke-linejoin="round"/>
<path d="M530.15,30.97 L534.70,39.87 L525.60,39.87 Z" fill="none" stroke="#ff8717" stroke-width="1.2" stroke-linejoin="round"/>
<path d="M538.0,25.3 L540.2,25.3 L546.0,36.2 L532.3,36.2 Z" fill="#ff8717" stroke="#ff8717" stroke-width="0.6" stroke-linejoin="round"/>
<path d="M539.4,30.6 L541.4,34.6 L537.5,34.6 Z" fill="#fff"/>
<path d="M528.3,46.0 L533.2,40.6 L538.6,40.6 L543.6,46.0 L538.6,51.4 L533.2,51.4 Z" fill="#0000cc" stroke="#0000cc" stroke-width="0.6" stroke-linejoin="round"/>
<path d="M535.2,44.2 L537.3,46.0 L535.2,47.8" fill="none" stroke="#fff" stroke-width="0.9" opacity="0.7"/>
<rect x="532.5" y="54.2" width="15.2" height="11.2" rx="1.2" fill="#007f0e"/>
<path d="M539.6,57.6 L541.4,57.6 L541.4,62.6 L538.2,62.6 L538.2,60.6 Z" fill="#fff"/>
<ellipse cx="545.7" cy="76.0" rx="7.3" ry="5.9" fill="#ff0000"/>
<ellipse cx="545.6" cy="77.2" rx="1.7" ry="1.9" fill="#fff"/>
<path d="M71.0,14.0 H670.5 V434.6" fill="none" stroke="#000" stroke-width="1.9"/>
<path d="M71.1,13.05 V434.6 H671.4" fill="none" stroke="#000" stroke-width="2.0"/>
<path d="M71.0,434.60 h6.9 M71.0,413.57 h3.8 M71.0,392.54 h6.9 M71.0,371.51 h3.8 M71.0,350.48 h6.9 M71.0,329.45 h3.8 M71.0,308.42 h6.9 M71.0,287.39 h3.8 M71.0,266.36 h6.9 M71.0,245.33 h3.8 M71.0,224.30 h6.9 M71.0,203.27 h3.8 M71.0,182.24 h6.9 M71.0,161.21 h3.8 M71.0,140.18 h6.9 M71.0,119.15 h3.8 M71.0,98.12 h6.9 M71.0,77.09 h3.8 M71.0,56.06 h6.9 M71.0,35.03 h3.8 M71.0,14.00 h6.9 M71.00,434.6 v-7.3 M93.56,434.6 v-3.6 M106.75,434.6 v-3.6 M116.12,434.6 v-3.6 M123.38,434.6 v-3.6 M129.31,434.6 v-3.6 M134.33,434.6 v-3.6 M138.68,434.6 v-3.6 M142.51,434.6 v-3.6 M145.94,434.6 v-7.3 M168.50,434.6 v-3.6 M181.69,434.6 v-3.6 M191.05,434.6 v-3.6 M198.32,434.6 v-3.6 M204.25,434.6 v-3.6 M209.27,434.6 v-3.6 M213.61,434.6 v-3.6 M217.45,434.6 v-3.6 M220.88,434.6 v-7.3 M243.43,434.6 v-3.6 M256.63,434.6 v-3.6 M265.99,434.6 v-3.6 M273.25,434.6 v-3.6 M279.19,434.6 v-3.6 M284.20,434.6 v-3.6 M288.55,434.6 v-3.6 M292.38,434.6 v-3.6 M295.81,434.6 v-7.3 M318.37,434.6 v-3.6 M331.57,434.6 v-3.6 M340.93,434.6 v-3.6 M348.19,434.6 v-3.6 M354.13,434.6 v-3.6 M359.14,434.6 v-3.6 M363.49,434.6 v-3.6 M367.32,434.6 v-3.6 M370.75,434.6 v-7.3 M393.31,434.6 v-3.6 M406.50,434.6 v-3.6 M415.87,434.6 v-3.6 M423.13,434.6 v-3.6 M429.06,434.6 v-3.6 M434.08,434.6 v-3.6 M438.43,434.6 v-3.6 M442.26,434.6 v-3.6 M445.69,434.6 v-7.3 M468.25,434.6 v-3.6 M481.44,434.6 v-3.6 M490.80,434.6 v-3.6 M498.07,434.6 v-3.6 M504.00,434.6 v-3.6 M509.02,434.6 v-3.6 M513.36,434.6 v-3.6 M517.20,434.6 v-3.6 M520.62,434.6 v-7.3 M543.18,434.6 v-3.6 M556.38,434.6 v-3.6 M565.74,434.6 v-3.6 M573.00,434.6 v-3.6 M578.94,434.6 v-3.6 M583.95,434.6 v-3.6 M588.30,434.6 v-3.6 M592.13,434.6 v-3.6 M595.56,434.6 v-7.3 M618.12,434.6 v-3.6 M631.32,434.6 v-3.6 M640.68,434.6 v-3.6 M647.94,434.6 v-3.6 M653.88,434.6 v-3.6 M658.89,434.6 v-3.6 M663.24,434.6 v-3.6 M667.07,434.6 v-3.6 M670.50,434.6 v-7.3" stroke="#000" stroke-width="1.6" fill="none"/>
<text x="49.88" y="440.3" font-family="Liberation Sans, sans-serif" font-size="20">0</text>
<text x="49.88" y="398.2" font-family="Liberation Sans, sans-serif" font-size="20">5</text>
<text x="38.76" y="356.2" font-family="Liberation Sans, sans-serif" font-size="20">10</text>
<rect x="39.06" y="353.78" width="4.70" height="2.80" fill="#fff"/><rect x="45.76" y="353.78" width="4.00" height="2.80" fill="#fff"/>
<text x="38.76" y="314.1" font-family="Liberation Sans, sans-serif" font-size="20">15</text>
<rect x="39.06" y="311.72" width="4.70" height="2.80" fill="#fff"/><rect x="45.76" y="311.72" width="4.00" height="2.80" fill="#fff"/>
<text x="38.76" y="272.1" font-family="Liberation Sans, sans-serif" font-size="20">20</text>
<text x="38.76" y="230.0" font-family="Liberation Sans, sans-serif" font-size="20">25</text>
<text x="38.76" y="187.9" font-family="Liberation Sans, sans-serif" font-size="20">30</text>
<text x="38.76" y="145.9" font-family="Liberation Sans, sans-serif" font-size="20">35</text>
<text x="38.76" y="103.8" font-family="Liberation Sans, sans-serif" font-size="20">40</text>
<text x="38.76" y="61.8" font-family="Liberation Sans, sans-serif" font-size="20">45</text>
<text x="38.76" y="19.7" font-family="Liberation Sans, sans-serif" font-size="20">50</text>
<text x="56.2" y="459.3" font-family="Liberation Sans, sans-serif" font-size="20">10</text>
<rect x="56.50" y="456.90" width="4.70" height="2.80" fill="#fff"/><rect x="63.20" y="456.90" width="4.00" height="2.80" fill="#fff"/>
<text x="77.6" y="450.2" font-family="Liberation Sans, sans-serif" font-size="13">0</text>
<text x="131.1" y="459.3" font-family="Liberation Sans, sans-serif" font-size="20">10</text>
<rect x="131.44" y="456.90" width="4.70" height="2.80" fill="#fff"/><rect x="138.14" y="456.90" width="4.00" height="2.80" fill="#fff"/>
<text x="152.5" y="450.2" font-family="Liberation Sans, sans-serif" font-size="13">1</text>
<rect x="152.73" y="448.64" width="3.06" height="1.82" fill="#fff"/><rect x="157.09" y="448.64" width="2.60" height="1.82" fill="#fff"/>
<text x="206.1" y="459.3" font-family="Liberation Sans, sans-serif" font-size="20">10</text>
<rect x="206.38" y="456.90" width="4.70" height="2.80" fill="#fff"/><rect x="213.07" y="456.90" width="4.00" height="2.80" fill="#fff"/>
<text x="227.5" y="450.2" font-family="Liberation Sans, sans-serif" font-size="13">2</text>
<text x="281.0" y="459.3" font-family="Liberation Sans, sans-serif" font-size="20">10</text>
<rect x="281.31" y="456.90" width="4.70" height="2.80" fill="#fff"/><rect x="288.01" y="456.90" width="4.00" height="2.80" fill="#fff"/>
<text x="302.4" y="450.2" font-family="Liberation Sans, sans-serif" font-size="13">3</text>
<text x="355.9" y="459.3" font-family="Liberation Sans, sans-serif" font-size="20">10</text>
<rect x="356.25" y="456.90" width="4.70" height="2.80" fill="#fff"/><rect x="362.95" y="456.90" width="4.00" height="2.80" fill="#fff"/>
<text x="377.4" y="450.2" font-family="Liberation Sans, sans-serif" font-size="13">4</text>
<text x="430.9" y="459.3" font-family="Liberation Sans, sans-serif" font-size="20">10</text>
<rect x="431.19" y="456.90" width="4.70" height="2.80" fill="#fff"/><rect x="437.89" y="456.90" width="4.00" height="2.80" fill="#fff"/>
<text x="452.3" y="450.2" font-family="Liberation Sans, sans-serif" font-size="13">5</text>
<text x="505.8" y="459.3" font-family="Liberation Sans, sans-serif" font-size="20">10</text>
<rect x="506.12" y="456.90" width="4.70" height="2.80" fill="#fff"/><rect x="512.83" y="456.90" width="4.00" height="2.80" fill="#fff"/>
<text x="527.2" y="450.2" font-family="Liberation Sans, sans-serif" font-size="13">6</text>
<text x="580.8" y="459.3" font-family="Liberation Sans, sans-serif" font-size="20">10</text>
<rect x="581.06" y="456.90" width="4.70" height="2.80" fill="#fff"/><rect x="587.76" y="456.90" width="4.00" height="2.80" fill="#fff"/>
<text x="602.2" y="450.2" font-family="Liberation Sans, sans-serif" font-size="13">7</text>
<text x="655.7" y="459.3" font-family="Liberation Sans, sans-serif" font-size="20">10</text>
<rect x="656.00" y="456.90" width="4.70" height="2.80" fill="#fff"/><rect x="662.70" y="456.90" width="4.00" height="2.80" fill="#fff"/>
<text x="677.1" y="450.2" font-family="Liberation Sans, sans-serif" font-size="13">8</text>
<text x="279.5" y="492.6" font-family="Liberation Sans, sans-serif" font-size="20" transform="translate(-2.24,0) scale(1.008,1)">number of cycles</text>
<text x="437.5" y="492.6" font-family="Liberation Sans, sans-serif" font-size="20" font-style="italic">N</text>
<text x="452.5" y="503.9" font-family="Liberation Sans, sans-serif" font-size="13.5" font-style="italic">G</text>
<text transform="translate(19.4,410.3) rotate(-90)" font-family="Liberation Sans, sans-serif" font-size="21.7">increase in delamination length <tspan font-style="italic">a</tspan>*, mm</text>
<rect x="85.9" y="40.7" width="197.0" height="368.6" fill="none" stroke="#000" stroke-width="1.9"/>
<text transform="translate(129.3,64.5) scale(1.05,1)" font-family="Liberation Sans, sans-serif" font-size="16">benchmarks for</text>
<text x="129.2" y="82.6" font-family="Liberation Sans, sans-serif" font-size="16">G</text>
<path d="M144.3,81.3 v8.6 M147.3,81.3 v8.6" stroke="#000" stroke-width="1.1"/>
<path d="M149.3,82.69999999999999 L153.9,70.6" stroke="#000" stroke-width="1.35"/>
<text x="153.4" y="82.6" font-family="Liberation Sans, sans-serif" font-size="16">G</text>
<text x="166.6" y="89.8" font-family="Liberation Sans, sans-serif" font-size="12.5">T</text>
<text x="178.2" y="82.6" font-family="Liberation Sans, sans-serif" font-size="16" transform="translate(-7.13,0) scale(1.04,1)">= 0.43</text>
<text transform="translate(129.3,244.1) scale(1.05,1)" font-family="Liberation Sans, sans-serif" font-size="16">benchmarks for</text>
<text x="129.2" y="260.8" font-family="Liberation Sans, sans-serif" font-size="16">G</text>
<path d="M144.3,259.5 v8.6 M147.3,259.5 v8.6" stroke="#000" stroke-width="1.1"/>
<path d="M149.3,260.90000000000003 L153.9,248.8" stroke="#000" stroke-width="1.35"/>
<text x="153.4" y="260.8" font-family="Liberation Sans, sans-serif" font-size="16">G</text>
<text x="166.6" y="268.0" font-family="Liberation Sans, sans-serif" font-size="12.5">T</text>
<text x="173.8" y="260.8" font-family="Liberation Sans, sans-serif" font-size="16" transform="translate(-6.95,0) scale(1.04,1)">= f (a*)</text>
<text x="169" y="109.0" font-family="Liberation Sans, sans-serif" font-size="16" fill="#ff0000" transform="translate(-5.92,0) scale(1.035,1)">a* (u</text><text x="204.5" y="116.2" font-family="Liberation Sans, sans-serif" font-size="11.6" fill="#ff0000">40,max</text><text x="248" y="109.0" font-family="Liberation Sans, sans-serif" font-size="16" fill="#ff0000">)</text>
<text x="169" y="144.3" font-family="Liberation Sans, sans-serif" font-size="16" fill="#007f0e" transform="translate(-5.92,0) scale(1.035,1)">a* (u</text><text x="204.5" y="151.5" font-family="Liberation Sans, sans-serif" font-size="11.6" fill="#007f0e">50max</text><text x="244" y="144.3" font-family="Liberation Sans, sans-serif" font-size="16" fill="#007f0e">)</text>
<text x="169" y="179.2" font-family="Liberation Sans, sans-serif" font-size="16" fill="#0000cc" transform="translate(-5.92,0) scale(1.035,1)">a* (u</text><text x="204.5" y="186.4" font-family="Liberation Sans, sans-serif" font-size="11.6" fill="#0000cc">60max</text><text x="244" y="179.2" font-family="Liberation Sans, sans-serif" font-size="16" fill="#0000cc">)</text>
<text x="169" y="214.5" font-family="Liberation Sans, sans-serif" font-size="16" fill="#ff8717" transform="translate(-5.92,0) scale(1.035,1)">a* (u</text><text x="204.5" y="221.7" font-family="Liberation Sans, sans-serif" font-size="11.6" fill="#ff8717">70,max</text><text x="248" y="214.5" font-family="Liberation Sans, sans-serif" font-size="16" fill="#ff8717">)</text>
<path d="M117.8,103.8 h16 M145,103.8 h15.7" stroke="#ff0000" stroke-width="2.7"/>
<path d="M109.8,139.3 h5.3 M117.8,139.3 h6.1 M126.2,139.3 h5.4 M136.4,139.3 h5.4 M144.4,139.3 h5.2 M153.1,139.3 h5.9" stroke="#007f0e" stroke-width="2.6"/>
<path d="M104.8,174 h7.2 M118,174 h7.8 M131.4,174 h7.7 M144.7,174 h7.4 M158,174 h6.9" stroke="#0000cc" stroke-width="2.5"/>
<path d="M109.7,209.4 h4.3 M119.9,209.4 h3.8 M128.1,209.4 h13.9 M145.2,209.4 h15.4" stroke="#ff8717" stroke-width="2.8"/>
<text x="169" y="289.6" font-family="Liberation Sans, sans-serif" font-size="16" fill="#ff0000" transform="translate(-5.92,0) scale(1.035,1)">a* (u</text><text x="204.5" y="296.8" font-family="Liberation Sans, sans-serif" font-size="11.6" fill="#ff0000">40,max</text><text x="248" y="289.6" font-family="Liberation Sans, sans-serif" font-size="16" fill="#ff0000">)</text>
<text x="169" y="324.9" font-family="Liberation Sans, sans-serif" font-size="16" fill="#007f0e" transform="translate(-5.92,0) scale(1.035,1)">a* (u</text><text x="204.5" y="332.1" font-family="Liberation Sans, sans-serif" font-size="11.6" fill="#007f0e">50max</text><text x="244" y="324.9" font-family="Liberation Sans, sans-serif" font-size="16" fill="#007f0e">)</text>
<text x="169" y="359.7" font-family="Liberation Sans, sans-serif" font-size="16" fill="#0000cc" transform="translate(-5.92,0) scale(1.035,1)">a* (u</text><text x="204.5" y="366.9" font-family="Liberation Sans, sans-serif" font-size="11.6" fill="#0000cc">60max</text><text x="244" y="359.7" font-family="Liberation Sans, sans-serif" font-size="16" fill="#0000cc">)</text>
<text x="169" y="395.0" font-family="Liberation Sans, sans-serif" font-size="16" fill="#ff8717" transform="translate(-5.92,0) scale(1.035,1)">a* (u</text><text x="204.5" y="402.2" font-family="Liberation Sans, sans-serif" font-size="11.6" fill="#ff8717">70,max</text><text x="248" y="395.0" font-family="Liberation Sans, sans-serif" font-size="16" fill="#ff8717">)</text>
<path d="M109.9,284.4 h4.7 M117.5,284.4 h4.7 M127.3,284.4 h3.4 M138.4,284.4 h3.2 M145.5,284.4 h4.7 M154.3,284.4 h4.7" stroke="#ff0000" stroke-width="1.4"/>
<ellipse cx="134.90" cy="284.40" rx="4.55" ry="4.85" fill="none" stroke="#ff0000" stroke-width="1.4"/>
<path d="M105.3,319.7 h2.9 M109.9,319.7 h2.4 M114.6,319.7 h2.3 M119.3,319.7 h2.9 M124.9,319.7 h2.9 M132.1,319.7 h3.2 M139.4,319.7 h2.6 M145,319.7 h2.9 M149.6,319.7 h3 M154.7,319.7 h2.5 M159.6,319.7 h2.9" stroke="#007f0e" stroke-width="1.7"/>
<rect x="130.30" y="315.00" width="9.20" height="9.20" fill="none" stroke="#007f0e" stroke-width="1.5"/>
<path d="M110,354.5 h4.8 M117.8,354.5 h4.7 M127.2,354.5 h4.2 M138.5,354.5 h3.5 M145.6,354.5 h4.1 M153.8,354.5 h4.8" stroke="#0000cc" stroke-width="1.3"/>
<path d="M134.70,349.80 L138.60,354.50 L134.70,359.20 L130.80,354.50 Z" fill="none" stroke="#0000cc" stroke-width="1.05" stroke-linejoin="round"/>
<path d="M110,389.8 h4.8 M118.9,389.8 h4.7 M127.2,389.8 h4.2 M138.5,389.8 h3.5 M145.6,389.8 h4.1 M153.8,389.8 h4.8" stroke="#ff8717" stroke-width="1.6"/>
<path d="M134.80,385.15 L139.35,394.05 L130.25,394.05 Z" fill="none" stroke="#ff8717" stroke-width="1.2" stroke-linejoin="round"/>
</svg>
</body></html>
